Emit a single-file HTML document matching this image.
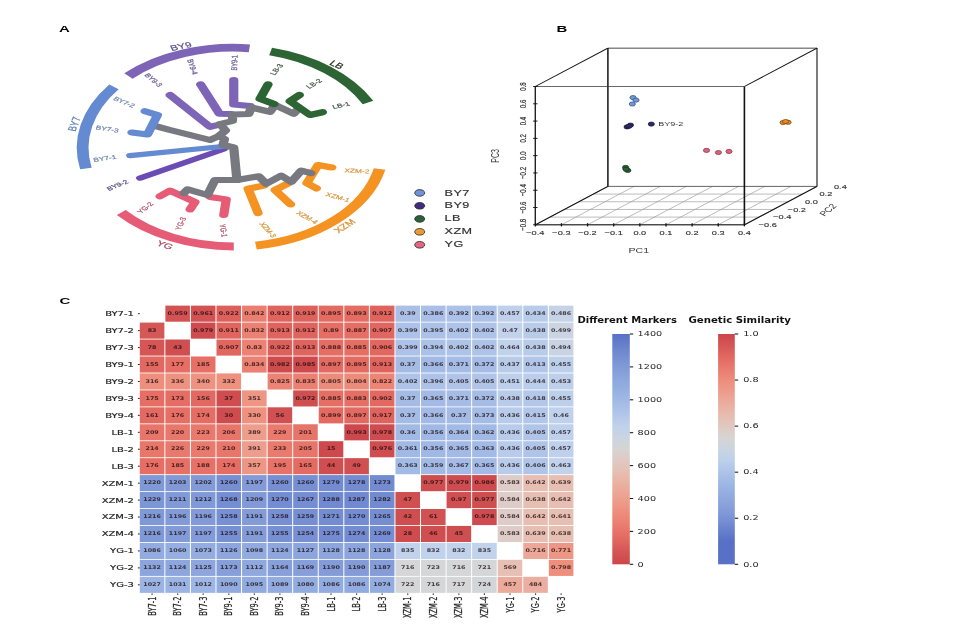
<!DOCTYPE html>
<html lang="en"><head><meta charset="utf-8"><title>Figure: phylogeny, PCA and genetic similarity heatmap</title>
<style>
html,body{margin:0;padding:0;background:#fff;}
body{width:960px;height:640px;overflow:hidden;font-family:"Liberation Sans",Arial,sans-serif;}
svg{display:block;filter:blur(0.45px);}
</style></head><body>
<svg width="960" height="640" viewBox="0 0 960 640">
<rect width="960" height="640" fill="#fff"/>
<g transform="scale(1 0.664)">
<path d="M114 130.87 A150 150 0 0 0 85.9 253.77" fill="none" stroke="#648ad2" stroke-width="11.8"/>
<path d="M128.4 114.46 A150 150 0 0 1 249.4 72.74" fill="none" stroke="#7d64b6" stroke-width="11.8"/>
<path d="M270.6 77.56 A150 150 0 0 1 368 154.37" fill="none" stroke="#2c6434" stroke-width="11.8"/>
<path d="M379.6 254.52 A150 150 0 0 1 255.9 369.88" fill="none" stroke="#f49222" stroke-width="11.8"/>
<path d="M233.75 371.23 A150 150 0 0 1 121.25 320.03" fill="none" stroke="#e65c76" stroke-width="11.8"/>
<path d="M233.75 120.48 L233.75 157.38 L250 159.64" fill="none" stroke="#7d64b6" stroke-width="9.2" stroke-linecap="round" stroke-linejoin="round"/>
<path d="M200.6 127.11 L219.4 171.31 L231 171.69" fill="none" stroke="#7d64b6" stroke-width="9.2" stroke-linecap="round" stroke-linejoin="round"/>
<path d="M170 143.07 L210 191.11 L220 187.5" fill="none" stroke="#7d64b6" stroke-width="9.2" stroke-linecap="round" stroke-linejoin="round"/>
<path d="M140 268.22 L224 224.4" fill="none" stroke="#6a4cb4" stroke-width="7.82" stroke-linecap="round" stroke-linejoin="round"/>
<path d="M130 234.34 L222.5 220.63" fill="none" stroke="#648ad2" stroke-width="7.82" stroke-linecap="round" stroke-linejoin="round"/>
<path d="M264 279.37 L248.1 284.26 L258.1 320.93" fill="none" stroke="#f49222" stroke-width="9.2" stroke-linecap="round" stroke-linejoin="round"/>
<path d="M287.5 276.73 L275 286.14 L290.6 307.83" fill="none" stroke="#f49222" stroke-width="9.2" stroke-linecap="round" stroke-linejoin="round"/>
<path d="M331.9 252.26 L318.1 248.49 L306.9 275.75 L316.5 283.73" fill="none" stroke="#f49222" stroke-width="9.2" stroke-linecap="round" stroke-linejoin="round"/>
<path d="M210 296.54 L226.25 300.3 L223.75 323.8" fill="none" stroke="#e65c76" stroke-width="9.2" stroke-linecap="round" stroke-linejoin="round"/>
<path d="M160 295.56 L170 287.05 L195 304.07 L190 315.36" fill="none" stroke="#e65c76" stroke-width="9.2" stroke-linecap="round" stroke-linejoin="round"/>
<path d="M236.9 271.08 L233.75 222.14 L223 218.37 L224.5 209.34 L219 204.82 L225.5 196.54 L220 186.75 L232.5 182.23 L232.5 172.44 L248.75 171.69 L251.25 161.9 L270 168.52 L275 158.13 L293.75 171.31 L297 165.66" fill="none" stroke="#787880" stroke-width="9.2" stroke-linecap="round" stroke-linejoin="round"/>
<path d="M219 204.82 L210 210.84 L170 195.78 L153.75 189.16" fill="none" stroke="#787880" stroke-width="9.2" stroke-linecap="butt" stroke-linejoin="round"/>
<path d="M236.9 271.08 L258.75 265.44 L266.25 276.73 L281.25 264.46 L291.25 273.95 L301.25 256.93 L311 260.69" fill="none" stroke="#787880" stroke-width="9.2" stroke-linecap="round" stroke-linejoin="round"/>
<path d="M236.9 271.08 L215 271.08 L207.5 293.67 L187.5 285.24 L184 290.66" fill="none" stroke="#787880" stroke-width="9.2" stroke-linecap="round" stroke-linejoin="round"/>
<path d="M145 167.55 L157.5 173.19 L147.5 202.41 L131.9 199.55" fill="none" stroke="#648ad2" stroke-width="9.2" stroke-linecap="round" stroke-linejoin="round"/>
<path d="M268.1 127.11 L260 148.72 L274 156.63" fill="none" stroke="#2c6434" stroke-width="9.2" stroke-linecap="round" stroke-linejoin="round"/>
<path d="M299.4 143.07 L290 152.48 L310 173.19 L322.5 169.05" fill="none" stroke="#2c6434" stroke-width="9.2" stroke-linecap="round" stroke-linejoin="round"/>
<text transform="translate(124 154.37) rotate(31.32)" font-size="8.4" fill="#7186ad" font-weight="normal" text-anchor="middle" dominant-baseline="central" font-family="Liberation Sans, Arial, sans-serif" stroke="#7186ad" stroke-width="0.3">BY7-2</text>
<text transform="translate(107.1 194.88) rotate(11.95)" font-size="8.4" fill="#7186ad" font-weight="normal" text-anchor="middle" dominant-baseline="central" font-family="Liberation Sans, Arial, sans-serif" stroke="#7186ad" stroke-width="0.3">BY7-3</text>
<text transform="translate(105 239.08) rotate(-11.95)" font-size="8.4" fill="#7186ad" font-weight="normal" text-anchor="middle" dominant-baseline="central" font-family="Liberation Sans, Arial, sans-serif" stroke="#7186ad" stroke-width="0.3">BY7-1</text>
<text transform="translate(117.75 279.52) rotate(-31.32)" font-size="8.4" fill="#5c4f86" font-weight="normal" text-anchor="middle" dominant-baseline="central" font-family="Liberation Sans, Arial, sans-serif" stroke="#5c4f86" stroke-width="0.3">BY9-2</text>
<text transform="translate(153.1 120.86) rotate(51.64)" font-size="8.4" fill="#6f5f97" font-weight="normal" text-anchor="middle" dominant-baseline="central" font-family="Liberation Sans, Arial, sans-serif" stroke="#6f5f97" stroke-width="0.3">BY9-3</text>
<text transform="translate(191.9 100.75) rotate(76.41)" font-size="8.4" fill="#6f5f97" font-weight="normal" text-anchor="middle" dominant-baseline="central" font-family="Liberation Sans, Arial, sans-serif" stroke="#6f5f97" stroke-width="0.3">BY9-4</text>
<text transform="translate(235 94.5) rotate(-88.67)" font-size="8.4" fill="#6f5f97" font-weight="normal" text-anchor="middle" dominant-baseline="central" font-family="Liberation Sans, Arial, sans-serif" stroke="#6f5f97" stroke-width="0.3">BY9-1</text>
<text transform="translate(277.1 104.82) rotate(-60.88)" font-size="8.4" fill="#47574a" font-weight="normal" text-anchor="middle" dominant-baseline="central" font-family="Liberation Sans, Arial, sans-serif" stroke="#47574a" stroke-width="0.3">LB-3</text>
<text transform="translate(314.4 126.51) rotate(-41.01)" font-size="8.4" fill="#47574a" font-weight="normal" text-anchor="middle" dominant-baseline="central" font-family="Liberation Sans, Arial, sans-serif" stroke="#47574a" stroke-width="0.3">LB-2</text>
<text transform="translate(341.25 159.04) rotate(-17.75)" font-size="8.4" fill="#47574a" font-weight="normal" text-anchor="middle" dominant-baseline="central" font-family="Liberation Sans, Arial, sans-serif" stroke="#47574a" stroke-width="0.3">LB-1</text>
<text transform="translate(356.9 257.91) rotate(4.51)" font-size="8.4" fill="#d99a45" font-weight="normal" text-anchor="middle" dominant-baseline="central" font-family="Liberation Sans, Arial, sans-serif" stroke="#d99a45" stroke-width="0.3">XZM-2</text>
<text transform="translate(337.5 297.44) rotate(21.98)" font-size="8.4" fill="#d99a45" font-weight="normal" text-anchor="middle" dominant-baseline="central" font-family="Liberation Sans, Arial, sans-serif" stroke="#d99a45" stroke-width="0.3">XZM-1</text>
<text transform="translate(306.9 327.94) rotate(41.01)" font-size="8.4" fill="#d99a45" font-weight="normal" text-anchor="middle" dominant-baseline="central" font-family="Liberation Sans, Arial, sans-serif" stroke="#d99a45" stroke-width="0.3">XZM-4</text>
<text transform="translate(267.5 346.39) rotate(59.13)" font-size="8.4" fill="#d99a45" font-weight="normal" text-anchor="middle" dominant-baseline="central" font-family="Liberation Sans, Arial, sans-serif" stroke="#d99a45" stroke-width="0.3">XZM-3</text>
<text transform="translate(145.6 313.4) rotate(-49.64)" font-size="8.4" fill="#b4566b" font-weight="normal" text-anchor="middle" dominant-baseline="central" font-family="Liberation Sans, Arial, sans-serif" stroke="#b4566b" stroke-width="0.3">YG-2</text>
<text transform="translate(181.25 336.97) rotate(-72.8)" font-size="8.4" fill="#b4566b" font-weight="normal" text-anchor="middle" dominant-baseline="central" font-family="Liberation Sans, Arial, sans-serif" stroke="#b4566b" stroke-width="0.3">YG-3</text>
<text transform="translate(223.1 347.29) rotate(83.32)" font-size="8.4" fill="#b4566b" font-weight="normal" text-anchor="middle" dominant-baseline="central" font-family="Liberation Sans, Arial, sans-serif" stroke="#b4566b" stroke-width="0.3">YG-1</text>
<text transform="translate(74 186.75) rotate(-74.98)" font-size="11.5" fill="#5e7fb5" font-weight="normal" text-anchor="middle" dominant-baseline="central" font-family="Liberation Sans, Arial, sans-serif" stroke="#5e7fb5" stroke-width="0.3">BY7</text>
<text transform="translate(180.9 69.73) rotate(-17.75)" font-size="11.5" fill="#5d4f8c" font-weight="normal" text-anchor="middle" dominant-baseline="central" font-family="Liberation Sans, Arial, sans-serif" stroke="#5d4f8c" stroke-width="0.3">BY9</text>
<text transform="translate(336.9 97.29) rotate(35.08)" font-size="11.5" fill="#22301f" font-weight="normal" text-anchor="middle" dominant-baseline="central" font-family="Liberation Sans, Arial, sans-serif" stroke="#22301f" stroke-width="0.3">LB</text>
<text transform="translate(344.5 340.36) rotate(-43.26)" font-size="11.5" fill="#d9923a" font-weight="normal" text-anchor="middle" dominant-baseline="central" font-family="Liberation Sans, Arial, sans-serif" stroke="#d9923a" stroke-width="0.3">XZM</text>
<text transform="translate(165 368.98) rotate(26.07)" font-size="11.5" fill="#a64d62" font-weight="normal" text-anchor="middle" dominant-baseline="central" font-family="Liberation Sans, Arial, sans-serif" stroke="#a64d62" stroke-width="0.3">YG</text>
<circle cx="419.7" cy="290.51" r="5.0" fill="#6f93d6" stroke="#2b2b33" stroke-width="1.0"/>
<text transform="translate(444.6 294.43)" font-size="12.6" fill="#333" font-weight="normal" text-anchor="start" dominant-baseline="alphabetic" font-family="Liberation Sans, Arial, sans-serif" stroke="#333" stroke-width="0.25" letter-spacing="0.45">BY7</text>
<circle cx="419.7" cy="309.94" r="5.0" fill="#3f2c7c" stroke="#2b2b33" stroke-width="1.0"/>
<text transform="translate(444.6 313.86)" font-size="12.6" fill="#333" font-weight="normal" text-anchor="start" dominant-baseline="alphabetic" font-family="Liberation Sans, Arial, sans-serif" stroke="#333" stroke-width="0.25" letter-spacing="0.45">BY9</text>
<circle cx="419.7" cy="329.67" r="5.0" fill="#2a6137" stroke="#2b2b33" stroke-width="1.0"/>
<text transform="translate(444.6 332.83)" font-size="12.6" fill="#333" font-weight="normal" text-anchor="start" dominant-baseline="alphabetic" font-family="Liberation Sans, Arial, sans-serif" stroke="#333" stroke-width="0.25" letter-spacing="0.45">LB</text>
<circle cx="419.7" cy="349.1" r="5.0" fill="#ec9a33" stroke="#2b2b33" stroke-width="1.0"/>
<text transform="translate(444.6 352.56)" font-size="12.6" fill="#333" font-weight="normal" text-anchor="start" dominant-baseline="alphabetic" font-family="Liberation Sans, Arial, sans-serif" stroke="#333" stroke-width="0.25" letter-spacing="0.45">XZM</text>
<circle cx="419.7" cy="368.67" r="5.0" fill="#e4667f" stroke="#2b2b33" stroke-width="1.0"/>
<text transform="translate(444.6 371.69)" font-size="12.6" fill="#333" font-weight="normal" text-anchor="start" dominant-baseline="alphabetic" font-family="Liberation Sans, Arial, sans-serif" stroke="#333" stroke-width="0.25" letter-spacing="0.45">YG</text>
<text transform="translate(59 48.04)" font-size="15" fill="#000" font-weight="bold" text-anchor="start" dominant-baseline="alphabetic" font-family="Liberation Sans, Arial, sans-serif">A</text>
<text transform="translate(556.6 48.04)" font-size="15" fill="#000" font-weight="bold" text-anchor="start" dominant-baseline="alphabetic" font-family="Liberation Sans, Arial, sans-serif">B</text>
<text transform="translate(59.4 457.38)" font-size="15" fill="#000" font-weight="bold" text-anchor="start" dominant-baseline="alphabetic" font-family="Liberation Sans, Arial, sans-serif">C</text>
<line x1="535.3" y1="338.55" x2="607.9" y2="280.72" stroke="#9a9a9a" stroke-width="0.8" stroke-linecap="butt"/>
<line x1="561.44" y1="338.55" x2="634.04" y2="280.72" stroke="#9a9a9a" stroke-width="0.8" stroke-linecap="butt"/>
<line x1="587.57" y1="338.55" x2="660.17" y2="280.72" stroke="#9a9a9a" stroke-width="0.8" stroke-linecap="butt"/>
<line x1="613.71" y1="338.55" x2="686.31" y2="280.72" stroke="#9a9a9a" stroke-width="0.8" stroke-linecap="butt"/>
<line x1="639.85" y1="338.55" x2="712.45" y2="280.72" stroke="#9a9a9a" stroke-width="0.8" stroke-linecap="butt"/>
<line x1="665.99" y1="338.55" x2="738.59" y2="280.72" stroke="#9a9a9a" stroke-width="0.8" stroke-linecap="butt"/>
<line x1="692.12" y1="338.55" x2="764.73" y2="280.72" stroke="#9a9a9a" stroke-width="0.8" stroke-linecap="butt"/>
<line x1="718.26" y1="338.55" x2="790.86" y2="280.72" stroke="#9a9a9a" stroke-width="0.8" stroke-linecap="butt"/>
<line x1="744.4" y1="338.55" x2="817" y2="280.72" stroke="#9a9a9a" stroke-width="0.8" stroke-linecap="butt"/>
<line x1="535.3" y1="338.55" x2="744.4" y2="338.55" stroke="#444" stroke-width="1" stroke-linecap="butt"/>
<line x1="549.82" y1="326.99" x2="758.92" y2="326.99" stroke="#9a9a9a" stroke-width="0.8" stroke-linecap="butt"/>
<line x1="564.34" y1="315.42" x2="773.44" y2="315.42" stroke="#9a9a9a" stroke-width="0.8" stroke-linecap="butt"/>
<line x1="578.86" y1="303.86" x2="787.96" y2="303.86" stroke="#9a9a9a" stroke-width="0.8" stroke-linecap="butt"/>
<line x1="593.38" y1="292.29" x2="802.48" y2="292.29" stroke="#9a9a9a" stroke-width="0.8" stroke-linecap="butt"/>
<line x1="607.9" y1="280.72" x2="817" y2="280.72" stroke="#444" stroke-width="1" stroke-linecap="butt"/>
<line x1="607.9" y1="72.44" x2="817" y2="72.44" stroke="#111" stroke-width="1.3" stroke-linecap="butt"/>
<line x1="607.9" y1="72.44" x2="607.9" y2="280.72" stroke="#111" stroke-width="1.5" stroke-linecap="butt"/>
<line x1="817" y1="72.44" x2="817" y2="280.72" stroke="#111" stroke-width="1.1" stroke-linecap="butt"/>
<line x1="535.3" y1="130.27" x2="607.9" y2="72.44" stroke="#111" stroke-width="1.3" stroke-linecap="butt"/>
<line x1="744.4" y1="130.27" x2="817" y2="72.44" stroke="#111" stroke-width="1.3" stroke-linecap="butt"/>
<line x1="535.3" y1="338.55" x2="607.9" y2="280.72" stroke="#111" stroke-width="1.4" stroke-linecap="butt"/>
<line x1="744.4" y1="338.55" x2="817" y2="280.72" stroke="#111" stroke-width="1.5" stroke-linecap="butt"/>
<circle cx="633" cy="146.99" r="3.1" fill="#7099d8" stroke="#35507f" stroke-width="0.9"/>
<circle cx="636" cy="150.75" r="3.1" fill="#7099d8" stroke="#35507f" stroke-width="0.9"/>
<circle cx="632.3" cy="156.63" r="3.1" fill="#7099d8" stroke="#35507f" stroke-width="0.9"/>
<circle cx="627.1" cy="191.11" r="3.1" fill="#2e2a5e" stroke="#1c1a40" stroke-width="0.9"/>
<circle cx="630.5" cy="188.4" r="3.1" fill="#2e2a5e" stroke="#1c1a40" stroke-width="0.9"/>
<circle cx="629" cy="190.06" r="3.1" fill="#2e2a5e" stroke="#1c1a40" stroke-width="0.9"/>
<circle cx="651.3" cy="186.9" r="3.1" fill="#2e2a5e" stroke="#1c1a40" stroke-width="0.9"/>
<circle cx="625.6" cy="252.11" r="3.1" fill="#2a5f36" stroke="#17381f" stroke-width="0.9"/>
<circle cx="627.8" cy="256.63" r="3.1" fill="#2a5f36" stroke="#17381f" stroke-width="0.9"/>
<circle cx="626" cy="254.82" r="3.1" fill="#2a5f36" stroke="#17381f" stroke-width="0.9"/>
<circle cx="706.5" cy="226.51" r="3.1" fill="#d8657f" stroke="#8b3448" stroke-width="0.9"/>
<circle cx="718.4" cy="229.67" r="3.1" fill="#d8657f" stroke="#8b3448" stroke-width="0.9"/>
<circle cx="729" cy="228.01" r="3.1" fill="#d8657f" stroke="#8b3448" stroke-width="0.9"/>
<circle cx="783.1" cy="184.49" r="3.1" fill="#e58c2b" stroke="#7a430e" stroke-width="0.9"/>
<circle cx="788.1" cy="184.19" r="3.1" fill="#e58c2b" stroke="#7a430e" stroke-width="0.9"/>
<circle cx="785.6" cy="182.98" r="3.1" fill="#e58c2b" stroke="#7a430e" stroke-width="0.9"/>
<text transform="translate(658.3 189.91)" font-size="9" fill="#333" font-weight="normal" text-anchor="start" dominant-baseline="alphabetic" font-family="Liberation Sans, Arial, sans-serif">BY9-2</text>
<line x1="535.3" y1="130.27" x2="744.4" y2="130.27" stroke="#333" stroke-width="0.9" stroke-linecap="butt"/>
<line x1="535.3" y1="130.27" x2="535.3" y2="338.55" stroke="#222" stroke-width="1.4" stroke-linecap="butt"/>
<line x1="744.4" y1="130.27" x2="744.4" y2="338.55" stroke="#111" stroke-width="1.6" stroke-linecap="butt"/>
<line x1="535.3" y1="338.55" x2="744.4" y2="338.55" stroke="#333" stroke-width="1.4" stroke-linecap="butt"/>
<line x1="535.3" y1="336.14" x2="535.3" y2="340.96" stroke="#111" stroke-width="1.3" stroke-linecap="butt"/>
<text transform="translate(535.3 353.46)" font-size="9.2" fill="#333" font-weight="normal" text-anchor="middle" dominant-baseline="alphabetic" font-family="Liberation Sans, Arial, sans-serif" stroke="#333" stroke-width="0.2">−0.4</text>
<line x1="561.44" y1="336.14" x2="561.44" y2="340.96" stroke="#111" stroke-width="1.3" stroke-linecap="butt"/>
<text transform="translate(561.44 353.46)" font-size="9.2" fill="#333" font-weight="normal" text-anchor="middle" dominant-baseline="alphabetic" font-family="Liberation Sans, Arial, sans-serif" stroke="#333" stroke-width="0.2">−0.3</text>
<line x1="587.57" y1="336.14" x2="587.57" y2="340.96" stroke="#111" stroke-width="1.3" stroke-linecap="butt"/>
<text transform="translate(587.57 353.46)" font-size="9.2" fill="#333" font-weight="normal" text-anchor="middle" dominant-baseline="alphabetic" font-family="Liberation Sans, Arial, sans-serif" stroke="#333" stroke-width="0.2">−0.2</text>
<line x1="613.71" y1="336.14" x2="613.71" y2="340.96" stroke="#111" stroke-width="1.3" stroke-linecap="butt"/>
<text transform="translate(613.71 353.46)" font-size="9.2" fill="#333" font-weight="normal" text-anchor="middle" dominant-baseline="alphabetic" font-family="Liberation Sans, Arial, sans-serif" stroke="#333" stroke-width="0.2">−0.1</text>
<line x1="639.85" y1="336.14" x2="639.85" y2="340.96" stroke="#111" stroke-width="1.3" stroke-linecap="butt"/>
<text transform="translate(639.85 353.46)" font-size="9.2" fill="#333" font-weight="normal" text-anchor="middle" dominant-baseline="alphabetic" font-family="Liberation Sans, Arial, sans-serif" stroke="#333" stroke-width="0.2">0.0</text>
<line x1="665.99" y1="336.14" x2="665.99" y2="340.96" stroke="#111" stroke-width="1.3" stroke-linecap="butt"/>
<text transform="translate(665.99 353.46)" font-size="9.2" fill="#333" font-weight="normal" text-anchor="middle" dominant-baseline="alphabetic" font-family="Liberation Sans, Arial, sans-serif" stroke="#333" stroke-width="0.2">0.1</text>
<line x1="692.12" y1="336.14" x2="692.12" y2="340.96" stroke="#111" stroke-width="1.3" stroke-linecap="butt"/>
<text transform="translate(692.12 353.46)" font-size="9.2" fill="#333" font-weight="normal" text-anchor="middle" dominant-baseline="alphabetic" font-family="Liberation Sans, Arial, sans-serif" stroke="#333" stroke-width="0.2">0.2</text>
<line x1="718.26" y1="336.14" x2="718.26" y2="340.96" stroke="#111" stroke-width="1.3" stroke-linecap="butt"/>
<text transform="translate(718.26 353.46)" font-size="9.2" fill="#333" font-weight="normal" text-anchor="middle" dominant-baseline="alphabetic" font-family="Liberation Sans, Arial, sans-serif" stroke="#333" stroke-width="0.2">0.3</text>
<line x1="744.4" y1="336.14" x2="744.4" y2="340.96" stroke="#111" stroke-width="1.3" stroke-linecap="butt"/>
<text transform="translate(744.4 353.46)" font-size="9.2" fill="#333" font-weight="normal" text-anchor="middle" dominant-baseline="alphabetic" font-family="Liberation Sans, Arial, sans-serif" stroke="#333" stroke-width="0.2">0.4</text>
<line x1="533.1" y1="338.55" x2="537.5" y2="338.55" stroke="#111" stroke-width="1.4" stroke-linecap="butt"/>
<text transform="translate(522.8 338.55) rotate(-90)" font-size="9.2" fill="#333" font-weight="normal" text-anchor="middle" dominant-baseline="central" font-family="Liberation Sans, Arial, sans-serif" stroke="#333" stroke-width="0.2">−0.8</text>
<line x1="533.1" y1="312.52" x2="537.5" y2="312.52" stroke="#111" stroke-width="1.4" stroke-linecap="butt"/>
<text transform="translate(522.8 312.52) rotate(-90)" font-size="9.2" fill="#333" font-weight="normal" text-anchor="middle" dominant-baseline="central" font-family="Liberation Sans, Arial, sans-serif" stroke="#333" stroke-width="0.2">−0.6</text>
<line x1="533.1" y1="286.48" x2="537.5" y2="286.48" stroke="#111" stroke-width="1.4" stroke-linecap="butt"/>
<text transform="translate(522.8 286.48) rotate(-90)" font-size="9.2" fill="#333" font-weight="normal" text-anchor="middle" dominant-baseline="central" font-family="Liberation Sans, Arial, sans-serif" stroke="#333" stroke-width="0.2">−0.4</text>
<line x1="533.1" y1="260.45" x2="537.5" y2="260.45" stroke="#111" stroke-width="1.4" stroke-linecap="butt"/>
<text transform="translate(522.8 260.45) rotate(-90)" font-size="9.2" fill="#333" font-weight="normal" text-anchor="middle" dominant-baseline="central" font-family="Liberation Sans, Arial, sans-serif" stroke="#333" stroke-width="0.2">−0.2</text>
<line x1="533.1" y1="234.41" x2="537.5" y2="234.41" stroke="#111" stroke-width="1.4" stroke-linecap="butt"/>
<text transform="translate(522.8 234.41) rotate(-90)" font-size="9.2" fill="#333" font-weight="normal" text-anchor="middle" dominant-baseline="central" font-family="Liberation Sans, Arial, sans-serif" stroke="#333" stroke-width="0.2">0.0</text>
<line x1="533.1" y1="208.38" x2="537.5" y2="208.38" stroke="#111" stroke-width="1.4" stroke-linecap="butt"/>
<text transform="translate(522.8 208.38) rotate(-90)" font-size="9.2" fill="#333" font-weight="normal" text-anchor="middle" dominant-baseline="central" font-family="Liberation Sans, Arial, sans-serif" stroke="#333" stroke-width="0.2">0.2</text>
<line x1="533.1" y1="182.34" x2="537.5" y2="182.34" stroke="#111" stroke-width="1.4" stroke-linecap="butt"/>
<text transform="translate(522.8 182.34) rotate(-90)" font-size="9.2" fill="#333" font-weight="normal" text-anchor="middle" dominant-baseline="central" font-family="Liberation Sans, Arial, sans-serif" stroke="#333" stroke-width="0.2">0.4</text>
<line x1="533.1" y1="156.31" x2="537.5" y2="156.31" stroke="#111" stroke-width="1.4" stroke-linecap="butt"/>
<text transform="translate(522.8 156.31) rotate(-90)" font-size="9.2" fill="#333" font-weight="normal" text-anchor="middle" dominant-baseline="central" font-family="Liberation Sans, Arial, sans-serif" stroke="#333" stroke-width="0.2">0.6</text>
<line x1="533.1" y1="130.27" x2="537.5" y2="130.27" stroke="#111" stroke-width="1.4" stroke-linecap="butt"/>
<text transform="translate(522.8 130.27) rotate(-90)" font-size="9.2" fill="#333" font-weight="normal" text-anchor="middle" dominant-baseline="central" font-family="Liberation Sans, Arial, sans-serif" stroke="#333" stroke-width="0.2">0.8</text>
<text transform="translate(767.8 338.86)" font-size="9.2" fill="#333" font-weight="normal" text-anchor="middle" dominant-baseline="central" font-family="Liberation Sans, Arial, sans-serif" stroke="#333" stroke-width="0.2">−0.6</text>
<text transform="translate(782.32 327.29)" font-size="9.2" fill="#333" font-weight="normal" text-anchor="middle" dominant-baseline="central" font-family="Liberation Sans, Arial, sans-serif" stroke="#333" stroke-width="0.2">−0.4</text>
<text transform="translate(796.84 315.72)" font-size="9.2" fill="#333" font-weight="normal" text-anchor="middle" dominant-baseline="central" font-family="Liberation Sans, Arial, sans-serif" stroke="#333" stroke-width="0.2">−0.2</text>
<text transform="translate(811.36 304.16)" font-size="9.2" fill="#333" font-weight="normal" text-anchor="middle" dominant-baseline="central" font-family="Liberation Sans, Arial, sans-serif" stroke="#333" stroke-width="0.2">0.0</text>
<text transform="translate(825.88 292.59)" font-size="9.2" fill="#333" font-weight="normal" text-anchor="middle" dominant-baseline="central" font-family="Liberation Sans, Arial, sans-serif" stroke="#333" stroke-width="0.2">0.2</text>
<text transform="translate(840.4 281.02)" font-size="9.2" fill="#333" font-weight="normal" text-anchor="middle" dominant-baseline="central" font-family="Liberation Sans, Arial, sans-serif" stroke="#333" stroke-width="0.2">0.4</text>
<text transform="translate(638.8 381.02)" font-size="10.6" fill="#333" font-weight="normal" text-anchor="middle" dominant-baseline="alphabetic" font-family="Liberation Sans, Arial, sans-serif">PC1</text>
<text transform="translate(828 316.27) rotate(-51.64)" font-size="10.6" fill="#333" font-weight="normal" text-anchor="middle" dominant-baseline="central" font-family="Liberation Sans, Arial, sans-serif">PC2</text>
<text transform="translate(495 234.79) rotate(-90)" font-size="10.6" fill="#333" font-weight="normal" text-anchor="middle" dominant-baseline="central" font-family="Liberation Sans, Arial, sans-serif">PC3</text>
<rect x="165.36" y="460.28" width="24.56" height="24.24" fill="#d35353"/>
<text transform="translate(177.65 471.57) scale(1 1.22)" font-size="6.35" fill="#1a0a0c" fill-opacity="0.78" font-weight="bold" text-anchor="middle" dominant-baseline="central" font-family="DejaVu Sans, Liberation Sans, sans-serif">0.959</text>
<rect x="190.93" y="460.28" width="24.56" height="24.24" fill="#d25253"/>
<text transform="translate(203.21 471.57) scale(1 1.22)" font-size="6.35" fill="#1a0a0c" fill-opacity="0.78" font-weight="bold" text-anchor="middle" dominant-baseline="central" font-family="DejaVu Sans, Liberation Sans, sans-serif">0.961</text>
<rect x="216.49" y="460.28" width="24.56" height="24.24" fill="#dc615c"/>
<text transform="translate(228.78 471.57) scale(1 1.22)" font-size="6.35" fill="#1a0a0c" fill-opacity="0.78" font-weight="bold" text-anchor="middle" dominant-baseline="central" font-family="DejaVu Sans, Liberation Sans, sans-serif">0.922</text>
<rect x="242.06" y="460.28" width="24.56" height="24.24" fill="#ea7e70"/>
<text transform="translate(254.34 471.57) scale(1 1.22)" font-size="6.35" fill="#1a0a0c" fill-opacity="0.78" font-weight="bold" text-anchor="middle" dominant-baseline="central" font-family="DejaVu Sans, Liberation Sans, sans-serif">0.842</text>
<rect x="267.62" y="460.28" width="24.56" height="24.24" fill="#df645e"/>
<text transform="translate(279.91 471.57) scale(1 1.22)" font-size="6.35" fill="#1a0a0c" fill-opacity="0.78" font-weight="bold" text-anchor="middle" dominant-baseline="central" font-family="DejaVu Sans, Liberation Sans, sans-serif">0.912</text>
<rect x="293.19" y="460.28" width="24.56" height="24.24" fill="#dd625c"/>
<text transform="translate(305.47 471.57) scale(1 1.22)" font-size="6.35" fill="#1a0a0c" fill-opacity="0.78" font-weight="bold" text-anchor="middle" dominant-baseline="central" font-family="DejaVu Sans, Liberation Sans, sans-serif">0.919</text>
<rect x="318.75" y="460.28" width="24.56" height="24.24" fill="#e46b62"/>
<text transform="translate(331.04 471.57) scale(1 1.22)" font-size="6.35" fill="#1a0a0c" fill-opacity="0.78" font-weight="bold" text-anchor="middle" dominant-baseline="central" font-family="DejaVu Sans, Liberation Sans, sans-serif">0.895</text>
<rect x="344.32" y="460.28" width="24.56" height="24.24" fill="#e46c63"/>
<text transform="translate(356.6 471.57) scale(1 1.22)" font-size="6.35" fill="#1a0a0c" fill-opacity="0.78" font-weight="bold" text-anchor="middle" dominant-baseline="central" font-family="DejaVu Sans, Liberation Sans, sans-serif">0.893</text>
<rect x="369.88" y="460.28" width="24.56" height="24.24" fill="#df645e"/>
<text transform="translate(382.16 471.57) scale(1 1.22)" font-size="6.35" fill="#1a0a0c" fill-opacity="0.78" font-weight="bold" text-anchor="middle" dominant-baseline="central" font-family="DejaVu Sans, Liberation Sans, sans-serif">0.912</text>
<rect x="395.45" y="460.28" width="24.56" height="24.24" fill="#aac0e7"/>
<text transform="translate(407.73 471.57) scale(1 1.22)" font-size="6.35" fill="#1a0a0c" fill-opacity="0.78" font-weight="bold" text-anchor="middle" dominant-baseline="central" font-family="DejaVu Sans, Liberation Sans, sans-serif">0.39</text>
<rect x="421.01" y="460.28" width="24.56" height="24.24" fill="#a9bfe7"/>
<text transform="translate(433.29 471.57) scale(1 1.22)" font-size="6.35" fill="#1a0a0c" fill-opacity="0.78" font-weight="bold" text-anchor="middle" dominant-baseline="central" font-family="DejaVu Sans, Liberation Sans, sans-serif">0.386</text>
<rect x="446.58" y="460.28" width="24.56" height="24.24" fill="#abc1e7"/>
<text transform="translate(458.86 471.57) scale(1 1.22)" font-size="6.35" fill="#1a0a0c" fill-opacity="0.78" font-weight="bold" text-anchor="middle" dominant-baseline="central" font-family="DejaVu Sans, Liberation Sans, sans-serif">0.392</text>
<rect x="472.14" y="460.28" width="24.56" height="24.24" fill="#abc1e7"/>
<text transform="translate(484.42 471.57) scale(1 1.22)" font-size="6.35" fill="#1a0a0c" fill-opacity="0.78" font-weight="bold" text-anchor="middle" dominant-baseline="central" font-family="DejaVu Sans, Liberation Sans, sans-serif">0.392</text>
<rect x="497.71" y="460.28" width="24.56" height="24.24" fill="#bed0ec"/>
<text transform="translate(509.99 471.57) scale(1 1.22)" font-size="6.35" fill="#1a0a0c" fill-opacity="0.78" font-weight="bold" text-anchor="middle" dominant-baseline="central" font-family="DejaVu Sans, Liberation Sans, sans-serif">0.457</text>
<rect x="523.27" y="460.28" width="24.56" height="24.24" fill="#b7cbea"/>
<text transform="translate(535.55 471.57) scale(1 1.22)" font-size="6.35" fill="#1a0a0c" fill-opacity="0.78" font-weight="bold" text-anchor="middle" dominant-baseline="central" font-family="DejaVu Sans, Liberation Sans, sans-serif">0.434</text>
<rect x="548.84" y="460.28" width="24.56" height="24.24" fill="#c6d3e6"/>
<text transform="translate(561.12 471.57) scale(1 1.22)" font-size="6.35" fill="#1a0a0c" fill-opacity="0.78" font-weight="bold" text-anchor="middle" dominant-baseline="central" font-family="DejaVu Sans, Liberation Sans, sans-serif">0.486</text>
<rect x="139.8" y="485.8" width="24.56" height="24.24" fill="#d65856"/>
<text transform="translate(152.08 497.09) scale(1 1.22)" font-size="6.35" fill="#1a0a0c" fill-opacity="0.78" font-weight="bold" text-anchor="middle" dominant-baseline="central" font-family="DejaVu Sans, Liberation Sans, sans-serif">83</text>
<rect x="190.93" y="485.8" width="24.56" height="24.24" fill="#ce4c4f"/>
<text transform="translate(203.21 497.09) scale(1 1.22)" font-size="6.35" fill="#1a0a0c" fill-opacity="0.78" font-weight="bold" text-anchor="middle" dominant-baseline="central" font-family="DejaVu Sans, Liberation Sans, sans-serif">0.979</text>
<rect x="216.49" y="485.8" width="24.56" height="24.24" fill="#df655e"/>
<text transform="translate(228.78 497.09) scale(1 1.22)" font-size="6.35" fill="#1a0a0c" fill-opacity="0.78" font-weight="bold" text-anchor="middle" dominant-baseline="central" font-family="DejaVu Sans, Liberation Sans, sans-serif">0.911</text>
<rect x="242.06" y="485.8" width="24.56" height="24.24" fill="#eb8173"/>
<text transform="translate(254.34 497.09) scale(1 1.22)" font-size="6.35" fill="#1a0a0c" fill-opacity="0.78" font-weight="bold" text-anchor="middle" dominant-baseline="central" font-family="DejaVu Sans, Liberation Sans, sans-serif">0.832</text>
<rect x="267.62" y="485.8" width="24.56" height="24.24" fill="#df645e"/>
<text transform="translate(279.91 497.09) scale(1 1.22)" font-size="6.35" fill="#1a0a0c" fill-opacity="0.78" font-weight="bold" text-anchor="middle" dominant-baseline="central" font-family="DejaVu Sans, Liberation Sans, sans-serif">0.913</text>
<rect x="293.19" y="485.8" width="24.56" height="24.24" fill="#df645e"/>
<text transform="translate(305.47 497.09) scale(1 1.22)" font-size="6.35" fill="#1a0a0c" fill-opacity="0.78" font-weight="bold" text-anchor="middle" dominant-baseline="central" font-family="DejaVu Sans, Liberation Sans, sans-serif">0.912</text>
<rect x="318.75" y="485.8" width="24.56" height="24.24" fill="#e56d63"/>
<text transform="translate(331.04 497.09) scale(1 1.22)" font-size="6.35" fill="#1a0a0c" fill-opacity="0.78" font-weight="bold" text-anchor="middle" dominant-baseline="central" font-family="DejaVu Sans, Liberation Sans, sans-serif">0.89</text>
<rect x="344.32" y="485.8" width="24.56" height="24.24" fill="#e66e64"/>
<text transform="translate(356.6 497.09) scale(1 1.22)" font-size="6.35" fill="#1a0a0c" fill-opacity="0.78" font-weight="bold" text-anchor="middle" dominant-baseline="central" font-family="DejaVu Sans, Liberation Sans, sans-serif">0.887</text>
<rect x="369.88" y="485.8" width="24.56" height="24.24" fill="#e1665f"/>
<text transform="translate(382.16 497.09) scale(1 1.22)" font-size="6.35" fill="#1a0a0c" fill-opacity="0.78" font-weight="bold" text-anchor="middle" dominant-baseline="central" font-family="DejaVu Sans, Liberation Sans, sans-serif">0.907</text>
<rect x="395.45" y="485.8" width="24.56" height="24.24" fill="#adc2e8"/>
<text transform="translate(407.73 497.09) scale(1 1.22)" font-size="6.35" fill="#1a0a0c" fill-opacity="0.78" font-weight="bold" text-anchor="middle" dominant-baseline="central" font-family="DejaVu Sans, Liberation Sans, sans-serif">0.399</text>
<rect x="421.01" y="485.8" width="24.56" height="24.24" fill="#acc1e8"/>
<text transform="translate(433.29 497.09) scale(1 1.22)" font-size="6.35" fill="#1a0a0c" fill-opacity="0.78" font-weight="bold" text-anchor="middle" dominant-baseline="central" font-family="DejaVu Sans, Liberation Sans, sans-serif">0.395</text>
<rect x="446.58" y="485.8" width="24.56" height="24.24" fill="#aec3e8"/>
<text transform="translate(458.86 497.09) scale(1 1.22)" font-size="6.35" fill="#1a0a0c" fill-opacity="0.78" font-weight="bold" text-anchor="middle" dominant-baseline="central" font-family="DejaVu Sans, Liberation Sans, sans-serif">0.402</text>
<rect x="472.14" y="485.8" width="24.56" height="24.24" fill="#aec3e8"/>
<text transform="translate(484.42 497.09) scale(1 1.22)" font-size="6.35" fill="#1a0a0c" fill-opacity="0.78" font-weight="bold" text-anchor="middle" dominant-baseline="central" font-family="DejaVu Sans, Liberation Sans, sans-serif">0.402</text>
<rect x="497.71" y="485.8" width="24.56" height="24.24" fill="#c2d2ea"/>
<text transform="translate(509.99 497.09) scale(1 1.22)" font-size="6.35" fill="#1a0a0c" fill-opacity="0.78" font-weight="bold" text-anchor="middle" dominant-baseline="central" font-family="DejaVu Sans, Liberation Sans, sans-serif">0.47</text>
<rect x="523.27" y="485.8" width="24.56" height="24.24" fill="#b8ccea"/>
<text transform="translate(535.55 497.09) scale(1 1.22)" font-size="6.35" fill="#1a0a0c" fill-opacity="0.78" font-weight="bold" text-anchor="middle" dominant-baseline="central" font-family="DejaVu Sans, Liberation Sans, sans-serif">0.438</text>
<rect x="548.84" y="485.8" width="24.56" height="24.24" fill="#cad4e2"/>
<text transform="translate(561.12 497.09) scale(1 1.22)" font-size="6.35" fill="#1a0a0c" fill-opacity="0.78" font-weight="bold" text-anchor="middle" dominant-baseline="central" font-family="DejaVu Sans, Liberation Sans, sans-serif">0.499</text>
<rect x="139.8" y="511.32" width="24.56" height="24.24" fill="#d55655"/>
<text transform="translate(152.08 522.62) scale(1 1.22)" font-size="6.35" fill="#1a0a0c" fill-opacity="0.78" font-weight="bold" text-anchor="middle" dominant-baseline="central" font-family="DejaVu Sans, Liberation Sans, sans-serif">78</text>
<rect x="165.36" y="511.32" width="24.56" height="24.24" fill="#cf4e50"/>
<text transform="translate(177.65 522.62) scale(1 1.22)" font-size="6.35" fill="#1a0a0c" fill-opacity="0.78" font-weight="bold" text-anchor="middle" dominant-baseline="central" font-family="DejaVu Sans, Liberation Sans, sans-serif">43</text>
<rect x="216.49" y="511.32" width="24.56" height="24.24" fill="#e1665f"/>
<text transform="translate(228.78 522.62) scale(1 1.22)" font-size="6.35" fill="#1a0a0c" fill-opacity="0.78" font-weight="bold" text-anchor="middle" dominant-baseline="central" font-family="DejaVu Sans, Liberation Sans, sans-serif">0.907</text>
<rect x="242.06" y="511.32" width="24.56" height="24.24" fill="#eb8273"/>
<text transform="translate(254.34 522.62) scale(1 1.22)" font-size="6.35" fill="#1a0a0c" fill-opacity="0.78" font-weight="bold" text-anchor="middle" dominant-baseline="central" font-family="DejaVu Sans, Liberation Sans, sans-serif">0.83</text>
<rect x="267.62" y="511.32" width="24.56" height="24.24" fill="#dc615c"/>
<text transform="translate(279.91 522.62) scale(1 1.22)" font-size="6.35" fill="#1a0a0c" fill-opacity="0.78" font-weight="bold" text-anchor="middle" dominant-baseline="central" font-family="DejaVu Sans, Liberation Sans, sans-serif">0.922</text>
<rect x="293.19" y="511.32" width="24.56" height="24.24" fill="#df645e"/>
<text transform="translate(305.47 522.62) scale(1 1.22)" font-size="6.35" fill="#1a0a0c" fill-opacity="0.78" font-weight="bold" text-anchor="middle" dominant-baseline="central" font-family="DejaVu Sans, Liberation Sans, sans-serif">0.913</text>
<rect x="318.75" y="511.32" width="24.56" height="24.24" fill="#e66d64"/>
<text transform="translate(331.04 522.62) scale(1 1.22)" font-size="6.35" fill="#1a0a0c" fill-opacity="0.78" font-weight="bold" text-anchor="middle" dominant-baseline="central" font-family="DejaVu Sans, Liberation Sans, sans-serif">0.888</text>
<rect x="344.32" y="511.32" width="24.56" height="24.24" fill="#e66f64"/>
<text transform="translate(356.6 522.62) scale(1 1.22)" font-size="6.35" fill="#1a0a0c" fill-opacity="0.78" font-weight="bold" text-anchor="middle" dominant-baseline="central" font-family="DejaVu Sans, Liberation Sans, sans-serif">0.885</text>
<rect x="369.88" y="511.32" width="24.56" height="24.24" fill="#e1675f"/>
<text transform="translate(382.16 522.62) scale(1 1.22)" font-size="6.35" fill="#1a0a0c" fill-opacity="0.78" font-weight="bold" text-anchor="middle" dominant-baseline="central" font-family="DejaVu Sans, Liberation Sans, sans-serif">0.906</text>
<rect x="395.45" y="511.32" width="24.56" height="24.24" fill="#adc2e8"/>
<text transform="translate(407.73 522.62) scale(1 1.22)" font-size="6.35" fill="#1a0a0c" fill-opacity="0.78" font-weight="bold" text-anchor="middle" dominant-baseline="central" font-family="DejaVu Sans, Liberation Sans, sans-serif">0.399</text>
<rect x="421.01" y="511.32" width="24.56" height="24.24" fill="#abc1e8"/>
<text transform="translate(433.29 522.62) scale(1 1.22)" font-size="6.35" fill="#1a0a0c" fill-opacity="0.78" font-weight="bold" text-anchor="middle" dominant-baseline="central" font-family="DejaVu Sans, Liberation Sans, sans-serif">0.394</text>
<rect x="446.58" y="511.32" width="24.56" height="24.24" fill="#aec3e8"/>
<text transform="translate(458.86 522.62) scale(1 1.22)" font-size="6.35" fill="#1a0a0c" fill-opacity="0.78" font-weight="bold" text-anchor="middle" dominant-baseline="central" font-family="DejaVu Sans, Liberation Sans, sans-serif">0.402</text>
<rect x="472.14" y="511.32" width="24.56" height="24.24" fill="#aec3e8"/>
<text transform="translate(484.42 522.62) scale(1 1.22)" font-size="6.35" fill="#1a0a0c" fill-opacity="0.78" font-weight="bold" text-anchor="middle" dominant-baseline="central" font-family="DejaVu Sans, Liberation Sans, sans-serif">0.402</text>
<rect x="497.71" y="511.32" width="24.56" height="24.24" fill="#c0d2ec"/>
<text transform="translate(509.99 522.62) scale(1 1.22)" font-size="6.35" fill="#1a0a0c" fill-opacity="0.78" font-weight="bold" text-anchor="middle" dominant-baseline="central" font-family="DejaVu Sans, Liberation Sans, sans-serif">0.464</text>
<rect x="523.27" y="511.32" width="24.56" height="24.24" fill="#b8ccea"/>
<text transform="translate(535.55 522.62) scale(1 1.22)" font-size="6.35" fill="#1a0a0c" fill-opacity="0.78" font-weight="bold" text-anchor="middle" dominant-baseline="central" font-family="DejaVu Sans, Liberation Sans, sans-serif">0.438</text>
<rect x="548.84" y="511.32" width="24.56" height="24.24" fill="#c8d4e4"/>
<text transform="translate(561.12 522.62) scale(1 1.22)" font-size="6.35" fill="#1a0a0c" fill-opacity="0.78" font-weight="bold" text-anchor="middle" dominant-baseline="central" font-family="DejaVu Sans, Liberation Sans, sans-serif">0.494</text>
<rect x="139.8" y="536.85" width="24.56" height="24.24" fill="#e26961"/>
<text transform="translate(152.08 548.14) scale(1 1.22)" font-size="6.35" fill="#1a0a0c" fill-opacity="0.78" font-weight="bold" text-anchor="middle" dominant-baseline="central" font-family="DejaVu Sans, Liberation Sans, sans-serif">155</text>
<rect x="165.36" y="536.85" width="24.56" height="24.24" fill="#e66e64"/>
<text transform="translate(177.65 548.14) scale(1 1.22)" font-size="6.35" fill="#1a0a0c" fill-opacity="0.78" font-weight="bold" text-anchor="middle" dominant-baseline="central" font-family="DejaVu Sans, Liberation Sans, sans-serif">177</text>
<rect x="190.93" y="536.85" width="24.56" height="24.24" fill="#e67065"/>
<text transform="translate(203.21 548.14) scale(1 1.22)" font-size="6.35" fill="#1a0a0c" fill-opacity="0.78" font-weight="bold" text-anchor="middle" dominant-baseline="central" font-family="DejaVu Sans, Liberation Sans, sans-serif">185</text>
<rect x="242.06" y="536.85" width="24.56" height="24.24" fill="#eb8172"/>
<text transform="translate(254.34 548.14) scale(1 1.22)" font-size="6.35" fill="#1a0a0c" fill-opacity="0.78" font-weight="bold" text-anchor="middle" dominant-baseline="central" font-family="DejaVu Sans, Liberation Sans, sans-serif">0.834</text>
<rect x="267.62" y="536.85" width="24.56" height="24.24" fill="#ce4b4e"/>
<text transform="translate(279.91 548.14) scale(1 1.22)" font-size="6.35" fill="#1a0a0c" fill-opacity="0.78" font-weight="bold" text-anchor="middle" dominant-baseline="central" font-family="DejaVu Sans, Liberation Sans, sans-serif">0.982</text>
<rect x="293.19" y="536.85" width="24.56" height="24.24" fill="#ce4a4d"/>
<text transform="translate(305.47 548.14) scale(1 1.22)" font-size="6.35" fill="#1a0a0c" fill-opacity="0.78" font-weight="bold" text-anchor="middle" dominant-baseline="central" font-family="DejaVu Sans, Liberation Sans, sans-serif">0.985</text>
<rect x="318.75" y="536.85" width="24.56" height="24.24" fill="#e36a62"/>
<text transform="translate(331.04 548.14) scale(1 1.22)" font-size="6.35" fill="#1a0a0c" fill-opacity="0.78" font-weight="bold" text-anchor="middle" dominant-baseline="central" font-family="DejaVu Sans, Liberation Sans, sans-serif">0.897</text>
<rect x="344.32" y="536.85" width="24.56" height="24.24" fill="#e46b62"/>
<text transform="translate(356.6 548.14) scale(1 1.22)" font-size="6.35" fill="#1a0a0c" fill-opacity="0.78" font-weight="bold" text-anchor="middle" dominant-baseline="central" font-family="DejaVu Sans, Liberation Sans, sans-serif">0.895</text>
<rect x="369.88" y="536.85" width="24.56" height="24.24" fill="#df645e"/>
<text transform="translate(382.16 548.14) scale(1 1.22)" font-size="6.35" fill="#1a0a0c" fill-opacity="0.78" font-weight="bold" text-anchor="middle" dominant-baseline="central" font-family="DejaVu Sans, Liberation Sans, sans-serif">0.913</text>
<rect x="395.45" y="536.85" width="24.56" height="24.24" fill="#a4bbe6"/>
<text transform="translate(407.73 548.14) scale(1 1.22)" font-size="6.35" fill="#1a0a0c" fill-opacity="0.78" font-weight="bold" text-anchor="middle" dominant-baseline="central" font-family="DejaVu Sans, Liberation Sans, sans-serif">0.37</text>
<rect x="421.01" y="536.85" width="24.56" height="24.24" fill="#a3bae6"/>
<text transform="translate(433.29 548.14) scale(1 1.22)" font-size="6.35" fill="#1a0a0c" fill-opacity="0.78" font-weight="bold" text-anchor="middle" dominant-baseline="central" font-family="DejaVu Sans, Liberation Sans, sans-serif">0.366</text>
<rect x="446.58" y="536.85" width="24.56" height="24.24" fill="#a4bce6"/>
<text transform="translate(458.86 548.14) scale(1 1.22)" font-size="6.35" fill="#1a0a0c" fill-opacity="0.78" font-weight="bold" text-anchor="middle" dominant-baseline="central" font-family="DejaVu Sans, Liberation Sans, sans-serif">0.371</text>
<rect x="472.14" y="536.85" width="24.56" height="24.24" fill="#a5bce6"/>
<text transform="translate(484.42 548.14) scale(1 1.22)" font-size="6.35" fill="#1a0a0c" fill-opacity="0.78" font-weight="bold" text-anchor="middle" dominant-baseline="central" font-family="DejaVu Sans, Liberation Sans, sans-serif">0.372</text>
<rect x="497.71" y="536.85" width="24.56" height="24.24" fill="#b8ccea"/>
<text transform="translate(509.99 548.14) scale(1 1.22)" font-size="6.35" fill="#1a0a0c" fill-opacity="0.78" font-weight="bold" text-anchor="middle" dominant-baseline="central" font-family="DejaVu Sans, Liberation Sans, sans-serif">0.437</text>
<rect x="523.27" y="536.85" width="24.56" height="24.24" fill="#b1c6e9"/>
<text transform="translate(535.55 548.14) scale(1 1.22)" font-size="6.35" fill="#1a0a0c" fill-opacity="0.78" font-weight="bold" text-anchor="middle" dominant-baseline="central" font-family="DejaVu Sans, Liberation Sans, sans-serif">0.413</text>
<rect x="548.84" y="536.85" width="24.56" height="24.24" fill="#bdd0eb"/>
<text transform="translate(561.12 548.14) scale(1 1.22)" font-size="6.35" fill="#1a0a0c" fill-opacity="0.78" font-weight="bold" text-anchor="middle" dominant-baseline="central" font-family="DejaVu Sans, Liberation Sans, sans-serif">0.455</text>
<rect x="139.8" y="562.37" width="24.56" height="24.24" fill="#ee8e7c"/>
<text transform="translate(152.08 573.66) scale(1 1.22)" font-size="6.35" fill="#1a0a0c" fill-opacity="0.78" font-weight="bold" text-anchor="middle" dominant-baseline="central" font-family="DejaVu Sans, Liberation Sans, sans-serif">316</text>
<rect x="165.36" y="562.37" width="24.56" height="24.24" fill="#ee9280"/>
<text transform="translate(177.65 573.66) scale(1 1.22)" font-size="6.35" fill="#1a0a0c" fill-opacity="0.78" font-weight="bold" text-anchor="middle" dominant-baseline="central" font-family="DejaVu Sans, Liberation Sans, sans-serif">336</text>
<rect x="190.93" y="562.37" width="24.56" height="24.24" fill="#ee9381"/>
<text transform="translate(203.21 573.66) scale(1 1.22)" font-size="6.35" fill="#1a0a0c" fill-opacity="0.78" font-weight="bold" text-anchor="middle" dominant-baseline="central" font-family="DejaVu Sans, Liberation Sans, sans-serif">340</text>
<rect x="216.49" y="562.37" width="24.56" height="24.24" fill="#ee917f"/>
<text transform="translate(228.78 573.66) scale(1 1.22)" font-size="6.35" fill="#1a0a0c" fill-opacity="0.78" font-weight="bold" text-anchor="middle" dominant-baseline="central" font-family="DejaVu Sans, Liberation Sans, sans-serif">332</text>
<rect x="267.62" y="562.37" width="24.56" height="24.24" fill="#eb8474"/>
<text transform="translate(279.91 573.66) scale(1 1.22)" font-size="6.35" fill="#1a0a0c" fill-opacity="0.78" font-weight="bold" text-anchor="middle" dominant-baseline="central" font-family="DejaVu Sans, Liberation Sans, sans-serif">0.825</text>
<rect x="293.19" y="562.37" width="24.56" height="24.24" fill="#eb8072"/>
<text transform="translate(305.47 573.66) scale(1 1.22)" font-size="6.35" fill="#1a0a0c" fill-opacity="0.78" font-weight="bold" text-anchor="middle" dominant-baseline="central" font-family="DejaVu Sans, Liberation Sans, sans-serif">0.835</text>
<rect x="318.75" y="562.37" width="24.56" height="24.24" fill="#ed8b7a"/>
<text transform="translate(331.04 573.66) scale(1 1.22)" font-size="6.35" fill="#1a0a0c" fill-opacity="0.78" font-weight="bold" text-anchor="middle" dominant-baseline="central" font-family="DejaVu Sans, Liberation Sans, sans-serif">0.805</text>
<rect x="344.32" y="562.37" width="24.56" height="24.24" fill="#ed8b7a"/>
<text transform="translate(356.6 573.66) scale(1 1.22)" font-size="6.35" fill="#1a0a0c" fill-opacity="0.78" font-weight="bold" text-anchor="middle" dominant-baseline="central" font-family="DejaVu Sans, Liberation Sans, sans-serif">0.804</text>
<rect x="369.88" y="562.37" width="24.56" height="24.24" fill="#ec8575"/>
<text transform="translate(382.16 573.66) scale(1 1.22)" font-size="6.35" fill="#1a0a0c" fill-opacity="0.78" font-weight="bold" text-anchor="middle" dominant-baseline="central" font-family="DejaVu Sans, Liberation Sans, sans-serif">0.822</text>
<rect x="395.45" y="562.37" width="24.56" height="24.24" fill="#aec3e8"/>
<text transform="translate(407.73 573.66) scale(1 1.22)" font-size="6.35" fill="#1a0a0c" fill-opacity="0.78" font-weight="bold" text-anchor="middle" dominant-baseline="central" font-family="DejaVu Sans, Liberation Sans, sans-serif">0.402</text>
<rect x="421.01" y="562.37" width="24.56" height="24.24" fill="#acc2e8"/>
<text transform="translate(433.29 573.66) scale(1 1.22)" font-size="6.35" fill="#1a0a0c" fill-opacity="0.78" font-weight="bold" text-anchor="middle" dominant-baseline="central" font-family="DejaVu Sans, Liberation Sans, sans-serif">0.396</text>
<rect x="446.58" y="562.37" width="24.56" height="24.24" fill="#afc4e8"/>
<text transform="translate(458.86 573.66) scale(1 1.22)" font-size="6.35" fill="#1a0a0c" fill-opacity="0.78" font-weight="bold" text-anchor="middle" dominant-baseline="central" font-family="DejaVu Sans, Liberation Sans, sans-serif">0.405</text>
<rect x="472.14" y="562.37" width="24.56" height="24.24" fill="#afc4e8"/>
<text transform="translate(484.42 573.66) scale(1 1.22)" font-size="6.35" fill="#1a0a0c" fill-opacity="0.78" font-weight="bold" text-anchor="middle" dominant-baseline="central" font-family="DejaVu Sans, Liberation Sans, sans-serif">0.405</text>
<rect x="497.71" y="562.37" width="24.56" height="24.24" fill="#bccfeb"/>
<text transform="translate(509.99 573.66) scale(1 1.22)" font-size="6.35" fill="#1a0a0c" fill-opacity="0.78" font-weight="bold" text-anchor="middle" dominant-baseline="central" font-family="DejaVu Sans, Liberation Sans, sans-serif">0.451</text>
<rect x="523.27" y="562.37" width="24.56" height="24.24" fill="#bacdeb"/>
<text transform="translate(535.55 573.66) scale(1 1.22)" font-size="6.35" fill="#1a0a0c" fill-opacity="0.78" font-weight="bold" text-anchor="middle" dominant-baseline="central" font-family="DejaVu Sans, Liberation Sans, sans-serif">0.444</text>
<rect x="548.84" y="562.37" width="24.56" height="24.24" fill="#bdcfeb"/>
<text transform="translate(561.12 573.66) scale(1 1.22)" font-size="6.35" fill="#1a0a0c" fill-opacity="0.78" font-weight="bold" text-anchor="middle" dominant-baseline="central" font-family="DejaVu Sans, Liberation Sans, sans-serif">0.453</text>
<rect x="139.8" y="587.89" width="24.56" height="24.24" fill="#e66e64"/>
<text transform="translate(152.08 599.18) scale(1 1.22)" font-size="6.35" fill="#1a0a0c" fill-opacity="0.78" font-weight="bold" text-anchor="middle" dominant-baseline="central" font-family="DejaVu Sans, Liberation Sans, sans-serif">175</text>
<rect x="165.36" y="587.89" width="24.56" height="24.24" fill="#e56d63"/>
<text transform="translate(177.65 599.18) scale(1 1.22)" font-size="6.35" fill="#1a0a0c" fill-opacity="0.78" font-weight="bold" text-anchor="middle" dominant-baseline="central" font-family="DejaVu Sans, Liberation Sans, sans-serif">173</text>
<rect x="190.93" y="587.89" width="24.56" height="24.24" fill="#e26961"/>
<text transform="translate(203.21 599.18) scale(1 1.22)" font-size="6.35" fill="#1a0a0c" fill-opacity="0.78" font-weight="bold" text-anchor="middle" dominant-baseline="central" font-family="DejaVu Sans, Liberation Sans, sans-serif">156</text>
<rect x="216.49" y="587.89" width="24.56" height="24.24" fill="#cf4d4f"/>
<text transform="translate(228.78 599.18) scale(1 1.22)" font-size="6.35" fill="#1a0a0c" fill-opacity="0.78" font-weight="bold" text-anchor="middle" dominant-baseline="central" font-family="DejaVu Sans, Liberation Sans, sans-serif">37</text>
<rect x="242.06" y="587.89" width="24.56" height="24.24" fill="#ee9584"/>
<text transform="translate(254.34 599.18) scale(1 1.22)" font-size="6.35" fill="#1a0a0c" fill-opacity="0.78" font-weight="bold" text-anchor="middle" dominant-baseline="central" font-family="DejaVu Sans, Liberation Sans, sans-serif">351</text>
<rect x="293.19" y="587.89" width="24.56" height="24.24" fill="#cf4e50"/>
<text transform="translate(305.47 599.18) scale(1 1.22)" font-size="6.35" fill="#1a0a0c" fill-opacity="0.78" font-weight="bold" text-anchor="middle" dominant-baseline="central" font-family="DejaVu Sans, Liberation Sans, sans-serif">0.972</text>
<rect x="318.75" y="587.89" width="24.56" height="24.24" fill="#e66f64"/>
<text transform="translate(331.04 599.18) scale(1 1.22)" font-size="6.35" fill="#1a0a0c" fill-opacity="0.78" font-weight="bold" text-anchor="middle" dominant-baseline="central" font-family="DejaVu Sans, Liberation Sans, sans-serif">0.885</text>
<rect x="344.32" y="587.89" width="24.56" height="24.24" fill="#e66f65"/>
<text transform="translate(356.6 599.18) scale(1 1.22)" font-size="6.35" fill="#1a0a0c" fill-opacity="0.78" font-weight="bold" text-anchor="middle" dominant-baseline="central" font-family="DejaVu Sans, Liberation Sans, sans-serif">0.883</text>
<rect x="369.88" y="587.89" width="24.56" height="24.24" fill="#e26860"/>
<text transform="translate(382.16 599.18) scale(1 1.22)" font-size="6.35" fill="#1a0a0c" fill-opacity="0.78" font-weight="bold" text-anchor="middle" dominant-baseline="central" font-family="DejaVu Sans, Liberation Sans, sans-serif">0.902</text>
<rect x="395.45" y="587.89" width="24.56" height="24.24" fill="#a4bbe6"/>
<text transform="translate(407.73 599.18) scale(1 1.22)" font-size="6.35" fill="#1a0a0c" fill-opacity="0.78" font-weight="bold" text-anchor="middle" dominant-baseline="central" font-family="DejaVu Sans, Liberation Sans, sans-serif">0.37</text>
<rect x="421.01" y="587.89" width="24.56" height="24.24" fill="#a3bae6"/>
<text transform="translate(433.29 599.18) scale(1 1.22)" font-size="6.35" fill="#1a0a0c" fill-opacity="0.78" font-weight="bold" text-anchor="middle" dominant-baseline="central" font-family="DejaVu Sans, Liberation Sans, sans-serif">0.365</text>
<rect x="446.58" y="587.89" width="24.56" height="24.24" fill="#a4bce6"/>
<text transform="translate(458.86 599.18) scale(1 1.22)" font-size="6.35" fill="#1a0a0c" fill-opacity="0.78" font-weight="bold" text-anchor="middle" dominant-baseline="central" font-family="DejaVu Sans, Liberation Sans, sans-serif">0.371</text>
<rect x="472.14" y="587.89" width="24.56" height="24.24" fill="#a5bce6"/>
<text transform="translate(484.42 599.18) scale(1 1.22)" font-size="6.35" fill="#1a0a0c" fill-opacity="0.78" font-weight="bold" text-anchor="middle" dominant-baseline="central" font-family="DejaVu Sans, Liberation Sans, sans-serif">0.372</text>
<rect x="497.71" y="587.89" width="24.56" height="24.24" fill="#b8ccea"/>
<text transform="translate(509.99 599.18) scale(1 1.22)" font-size="6.35" fill="#1a0a0c" fill-opacity="0.78" font-weight="bold" text-anchor="middle" dominant-baseline="central" font-family="DejaVu Sans, Liberation Sans, sans-serif">0.438</text>
<rect x="523.27" y="587.89" width="24.56" height="24.24" fill="#b2c7e9"/>
<text transform="translate(535.55 599.18) scale(1 1.22)" font-size="6.35" fill="#1a0a0c" fill-opacity="0.78" font-weight="bold" text-anchor="middle" dominant-baseline="central" font-family="DejaVu Sans, Liberation Sans, sans-serif">0.418</text>
<rect x="548.84" y="587.89" width="24.56" height="24.24" fill="#bdd0eb"/>
<text transform="translate(561.12 599.18) scale(1 1.22)" font-size="6.35" fill="#1a0a0c" fill-opacity="0.78" font-weight="bold" text-anchor="middle" dominant-baseline="central" font-family="DejaVu Sans, Liberation Sans, sans-serif">0.455</text>
<rect x="139.8" y="613.41" width="24.56" height="24.24" fill="#e36a62"/>
<text transform="translate(152.08 624.71) scale(1 1.22)" font-size="6.35" fill="#1a0a0c" fill-opacity="0.78" font-weight="bold" text-anchor="middle" dominant-baseline="central" font-family="DejaVu Sans, Liberation Sans, sans-serif">161</text>
<rect x="165.36" y="613.41" width="24.56" height="24.24" fill="#e66e64"/>
<text transform="translate(177.65 624.71) scale(1 1.22)" font-size="6.35" fill="#1a0a0c" fill-opacity="0.78" font-weight="bold" text-anchor="middle" dominant-baseline="central" font-family="DejaVu Sans, Liberation Sans, sans-serif">176</text>
<rect x="190.93" y="613.41" width="24.56" height="24.24" fill="#e66d64"/>
<text transform="translate(203.21 624.71) scale(1 1.22)" font-size="6.35" fill="#1a0a0c" fill-opacity="0.78" font-weight="bold" text-anchor="middle" dominant-baseline="central" font-family="DejaVu Sans, Liberation Sans, sans-serif">174</text>
<rect x="216.49" y="613.41" width="24.56" height="24.24" fill="#ce4c4e"/>
<text transform="translate(228.78 624.71) scale(1 1.22)" font-size="6.35" fill="#1a0a0c" fill-opacity="0.78" font-weight="bold" text-anchor="middle" dominant-baseline="central" font-family="DejaVu Sans, Liberation Sans, sans-serif">30</text>
<rect x="242.06" y="613.41" width="24.56" height="24.24" fill="#ee917f"/>
<text transform="translate(254.34 624.71) scale(1 1.22)" font-size="6.35" fill="#1a0a0c" fill-opacity="0.78" font-weight="bold" text-anchor="middle" dominant-baseline="central" font-family="DejaVu Sans, Liberation Sans, sans-serif">330</text>
<rect x="267.62" y="613.41" width="24.56" height="24.24" fill="#d15152"/>
<text transform="translate(279.91 624.71) scale(1 1.22)" font-size="6.35" fill="#1a0a0c" fill-opacity="0.78" font-weight="bold" text-anchor="middle" dominant-baseline="central" font-family="DejaVu Sans, Liberation Sans, sans-serif">56</text>
<rect x="318.75" y="613.41" width="24.56" height="24.24" fill="#e36961"/>
<text transform="translate(331.04 624.71) scale(1 1.22)" font-size="6.35" fill="#1a0a0c" fill-opacity="0.78" font-weight="bold" text-anchor="middle" dominant-baseline="central" font-family="DejaVu Sans, Liberation Sans, sans-serif">0.899</text>
<rect x="344.32" y="613.41" width="24.56" height="24.24" fill="#e36a62"/>
<text transform="translate(356.6 624.71) scale(1 1.22)" font-size="6.35" fill="#1a0a0c" fill-opacity="0.78" font-weight="bold" text-anchor="middle" dominant-baseline="central" font-family="DejaVu Sans, Liberation Sans, sans-serif">0.897</text>
<rect x="369.88" y="613.41" width="24.56" height="24.24" fill="#de635d"/>
<text transform="translate(382.16 624.71) scale(1 1.22)" font-size="6.35" fill="#1a0a0c" fill-opacity="0.78" font-weight="bold" text-anchor="middle" dominant-baseline="central" font-family="DejaVu Sans, Liberation Sans, sans-serif">0.917</text>
<rect x="395.45" y="613.41" width="24.56" height="24.24" fill="#a4bbe6"/>
<text transform="translate(407.73 624.71) scale(1 1.22)" font-size="6.35" fill="#1a0a0c" fill-opacity="0.78" font-weight="bold" text-anchor="middle" dominant-baseline="central" font-family="DejaVu Sans, Liberation Sans, sans-serif">0.37</text>
<rect x="421.01" y="613.41" width="24.56" height="24.24" fill="#a3bae6"/>
<text transform="translate(433.29 624.71) scale(1 1.22)" font-size="6.35" fill="#1a0a0c" fill-opacity="0.78" font-weight="bold" text-anchor="middle" dominant-baseline="central" font-family="DejaVu Sans, Liberation Sans, sans-serif">0.366</text>
<rect x="446.58" y="613.41" width="24.56" height="24.24" fill="#a4bbe6"/>
<text transform="translate(458.86 624.71) scale(1 1.22)" font-size="6.35" fill="#1a0a0c" fill-opacity="0.78" font-weight="bold" text-anchor="middle" dominant-baseline="central" font-family="DejaVu Sans, Liberation Sans, sans-serif">0.37</text>
<rect x="472.14" y="613.41" width="24.56" height="24.24" fill="#a5bce6"/>
<text transform="translate(484.42 624.71) scale(1 1.22)" font-size="6.35" fill="#1a0a0c" fill-opacity="0.78" font-weight="bold" text-anchor="middle" dominant-baseline="central" font-family="DejaVu Sans, Liberation Sans, sans-serif">0.373</text>
<rect x="497.71" y="613.41" width="24.56" height="24.24" fill="#b8cbea"/>
<text transform="translate(509.99 624.71) scale(1 1.22)" font-size="6.35" fill="#1a0a0c" fill-opacity="0.78" font-weight="bold" text-anchor="middle" dominant-baseline="central" font-family="DejaVu Sans, Liberation Sans, sans-serif">0.436</text>
<rect x="523.27" y="613.41" width="24.56" height="24.24" fill="#b2c6e9"/>
<text transform="translate(535.55 624.71) scale(1 1.22)" font-size="6.35" fill="#1a0a0c" fill-opacity="0.78" font-weight="bold" text-anchor="middle" dominant-baseline="central" font-family="DejaVu Sans, Liberation Sans, sans-serif">0.415</text>
<rect x="548.84" y="613.41" width="24.56" height="24.24" fill="#bfd1ec"/>
<text transform="translate(561.12 624.71) scale(1 1.22)" font-size="6.35" fill="#1a0a0c" fill-opacity="0.78" font-weight="bold" text-anchor="middle" dominant-baseline="central" font-family="DejaVu Sans, Liberation Sans, sans-serif">0.46</text>
<rect x="139.8" y="638.94" width="24.56" height="24.24" fill="#e8756a"/>
<text transform="translate(152.08 650.23) scale(1 1.22)" font-size="6.35" fill="#1a0a0c" fill-opacity="0.78" font-weight="bold" text-anchor="middle" dominant-baseline="central" font-family="DejaVu Sans, Liberation Sans, sans-serif">209</text>
<rect x="165.36" y="638.94" width="24.56" height="24.24" fill="#e8786b"/>
<text transform="translate(177.65 650.23) scale(1 1.22)" font-size="6.35" fill="#1a0a0c" fill-opacity="0.78" font-weight="bold" text-anchor="middle" dominant-baseline="central" font-family="DejaVu Sans, Liberation Sans, sans-serif">220</text>
<rect x="190.93" y="638.94" width="24.56" height="24.24" fill="#e9796c"/>
<text transform="translate(203.21 650.23) scale(1 1.22)" font-size="6.35" fill="#1a0a0c" fill-opacity="0.78" font-weight="bold" text-anchor="middle" dominant-baseline="central" font-family="DejaVu Sans, Liberation Sans, sans-serif">223</text>
<rect x="216.49" y="638.94" width="24.56" height="24.24" fill="#e87569"/>
<text transform="translate(228.78 650.23) scale(1 1.22)" font-size="6.35" fill="#1a0a0c" fill-opacity="0.78" font-weight="bold" text-anchor="middle" dominant-baseline="central" font-family="DejaVu Sans, Liberation Sans, sans-serif">206</text>
<rect x="242.06" y="638.94" width="24.56" height="24.24" fill="#ed9d8c"/>
<text transform="translate(254.34 650.23) scale(1 1.22)" font-size="6.35" fill="#1a0a0c" fill-opacity="0.78" font-weight="bold" text-anchor="middle" dominant-baseline="central" font-family="DejaVu Sans, Liberation Sans, sans-serif">389</text>
<rect x="267.62" y="638.94" width="24.56" height="24.24" fill="#e97a6d"/>
<text transform="translate(279.91 650.23) scale(1 1.22)" font-size="6.35" fill="#1a0a0c" fill-opacity="0.78" font-weight="bold" text-anchor="middle" dominant-baseline="central" font-family="DejaVu Sans, Liberation Sans, sans-serif">229</text>
<rect x="293.19" y="638.94" width="24.56" height="24.24" fill="#e77468"/>
<text transform="translate(305.47 650.23) scale(1 1.22)" font-size="6.35" fill="#1a0a0c" fill-opacity="0.78" font-weight="bold" text-anchor="middle" dominant-baseline="central" font-family="DejaVu Sans, Liberation Sans, sans-serif">201</text>
<rect x="344.32" y="638.94" width="24.56" height="24.24" fill="#cd484c"/>
<text transform="translate(356.6 650.23) scale(1 1.22)" font-size="6.35" fill="#1a0a0c" fill-opacity="0.78" font-weight="bold" text-anchor="middle" dominant-baseline="central" font-family="DejaVu Sans, Liberation Sans, sans-serif">0.993</text>
<rect x="369.88" y="638.94" width="24.56" height="24.24" fill="#ce4c4f"/>
<text transform="translate(382.16 650.23) scale(1 1.22)" font-size="6.35" fill="#1a0a0c" fill-opacity="0.78" font-weight="bold" text-anchor="middle" dominant-baseline="central" font-family="DejaVu Sans, Liberation Sans, sans-serif">0.978</text>
<rect x="395.45" y="638.94" width="24.56" height="24.24" fill="#a1b9e5"/>
<text transform="translate(407.73 650.23) scale(1 1.22)" font-size="6.35" fill="#1a0a0c" fill-opacity="0.78" font-weight="bold" text-anchor="middle" dominant-baseline="central" font-family="DejaVu Sans, Liberation Sans, sans-serif">0.36</text>
<rect x="421.01" y="638.94" width="24.56" height="24.24" fill="#a0b8e5"/>
<text transform="translate(433.29 650.23) scale(1 1.22)" font-size="6.35" fill="#1a0a0c" fill-opacity="0.78" font-weight="bold" text-anchor="middle" dominant-baseline="central" font-family="DejaVu Sans, Liberation Sans, sans-serif">0.356</text>
<rect x="446.58" y="638.94" width="24.56" height="24.24" fill="#a2bae6"/>
<text transform="translate(458.86 650.23) scale(1 1.22)" font-size="6.35" fill="#1a0a0c" fill-opacity="0.78" font-weight="bold" text-anchor="middle" dominant-baseline="central" font-family="DejaVu Sans, Liberation Sans, sans-serif">0.364</text>
<rect x="472.14" y="638.94" width="24.56" height="24.24" fill="#a2b9e5"/>
<text transform="translate(484.42 650.23) scale(1 1.22)" font-size="6.35" fill="#1a0a0c" fill-opacity="0.78" font-weight="bold" text-anchor="middle" dominant-baseline="central" font-family="DejaVu Sans, Liberation Sans, sans-serif">0.362</text>
<rect x="497.71" y="638.94" width="24.56" height="24.24" fill="#b8cbea"/>
<text transform="translate(509.99 650.23) scale(1 1.22)" font-size="6.35" fill="#1a0a0c" fill-opacity="0.78" font-weight="bold" text-anchor="middle" dominant-baseline="central" font-family="DejaVu Sans, Liberation Sans, sans-serif">0.436</text>
<rect x="523.27" y="638.94" width="24.56" height="24.24" fill="#afc4e8"/>
<text transform="translate(535.55 650.23) scale(1 1.22)" font-size="6.35" fill="#1a0a0c" fill-opacity="0.78" font-weight="bold" text-anchor="middle" dominant-baseline="central" font-family="DejaVu Sans, Liberation Sans, sans-serif">0.405</text>
<rect x="548.84" y="638.94" width="24.56" height="24.24" fill="#bed0ec"/>
<text transform="translate(561.12 650.23) scale(1 1.22)" font-size="6.35" fill="#1a0a0c" fill-opacity="0.78" font-weight="bold" text-anchor="middle" dominant-baseline="central" font-family="DejaVu Sans, Liberation Sans, sans-serif">0.457</text>
<rect x="139.8" y="664.46" width="24.56" height="24.24" fill="#e8776a"/>
<text transform="translate(152.08 675.75) scale(1 1.22)" font-size="6.35" fill="#1a0a0c" fill-opacity="0.78" font-weight="bold" text-anchor="middle" dominant-baseline="central" font-family="DejaVu Sans, Liberation Sans, sans-serif">214</text>
<rect x="165.36" y="664.46" width="24.56" height="24.24" fill="#e9796d"/>
<text transform="translate(177.65 675.75) scale(1 1.22)" font-size="6.35" fill="#1a0a0c" fill-opacity="0.78" font-weight="bold" text-anchor="middle" dominant-baseline="central" font-family="DejaVu Sans, Liberation Sans, sans-serif">226</text>
<rect x="190.93" y="664.46" width="24.56" height="24.24" fill="#e97a6d"/>
<text transform="translate(203.21 675.75) scale(1 1.22)" font-size="6.35" fill="#1a0a0c" fill-opacity="0.78" font-weight="bold" text-anchor="middle" dominant-baseline="central" font-family="DejaVu Sans, Liberation Sans, sans-serif">229</text>
<rect x="216.49" y="664.46" width="24.56" height="24.24" fill="#e8766a"/>
<text transform="translate(228.78 675.75) scale(1 1.22)" font-size="6.35" fill="#1a0a0c" fill-opacity="0.78" font-weight="bold" text-anchor="middle" dominant-baseline="central" font-family="DejaVu Sans, Liberation Sans, sans-serif">210</text>
<rect x="242.06" y="664.46" width="24.56" height="24.24" fill="#ed9d8d"/>
<text transform="translate(254.34 675.75) scale(1 1.22)" font-size="6.35" fill="#1a0a0c" fill-opacity="0.78" font-weight="bold" text-anchor="middle" dominant-baseline="central" font-family="DejaVu Sans, Liberation Sans, sans-serif">391</text>
<rect x="267.62" y="664.46" width="24.56" height="24.24" fill="#e97b6e"/>
<text transform="translate(279.91 675.75) scale(1 1.22)" font-size="6.35" fill="#1a0a0c" fill-opacity="0.78" font-weight="bold" text-anchor="middle" dominant-baseline="central" font-family="DejaVu Sans, Liberation Sans, sans-serif">233</text>
<rect x="293.19" y="664.46" width="24.56" height="24.24" fill="#e87569"/>
<text transform="translate(305.47 675.75) scale(1 1.22)" font-size="6.35" fill="#1a0a0c" fill-opacity="0.78" font-weight="bold" text-anchor="middle" dominant-baseline="central" font-family="DejaVu Sans, Liberation Sans, sans-serif">205</text>
<rect x="318.75" y="664.46" width="24.56" height="24.24" fill="#cd494c"/>
<text transform="translate(331.04 675.75) scale(1 1.22)" font-size="6.35" fill="#1a0a0c" fill-opacity="0.78" font-weight="bold" text-anchor="middle" dominant-baseline="central" font-family="DejaVu Sans, Liberation Sans, sans-serif">15</text>
<rect x="369.88" y="664.46" width="24.56" height="24.24" fill="#cf4d4f"/>
<text transform="translate(382.16 675.75) scale(1 1.22)" font-size="6.35" fill="#1a0a0c" fill-opacity="0.78" font-weight="bold" text-anchor="middle" dominant-baseline="central" font-family="DejaVu Sans, Liberation Sans, sans-serif">0.976</text>
<rect x="395.45" y="664.46" width="24.56" height="24.24" fill="#a1b9e5"/>
<text transform="translate(407.73 675.75) scale(1 1.22)" font-size="6.35" fill="#1a0a0c" fill-opacity="0.78" font-weight="bold" text-anchor="middle" dominant-baseline="central" font-family="DejaVu Sans, Liberation Sans, sans-serif">0.361</text>
<rect x="421.01" y="664.46" width="24.56" height="24.24" fill="#a0b8e5"/>
<text transform="translate(433.29 675.75) scale(1 1.22)" font-size="6.35" fill="#1a0a0c" fill-opacity="0.78" font-weight="bold" text-anchor="middle" dominant-baseline="central" font-family="DejaVu Sans, Liberation Sans, sans-serif">0.356</text>
<rect x="446.58" y="664.46" width="24.56" height="24.24" fill="#a3bae6"/>
<text transform="translate(458.86 675.75) scale(1 1.22)" font-size="6.35" fill="#1a0a0c" fill-opacity="0.78" font-weight="bold" text-anchor="middle" dominant-baseline="central" font-family="DejaVu Sans, Liberation Sans, sans-serif">0.365</text>
<rect x="472.14" y="664.46" width="24.56" height="24.24" fill="#a2bae6"/>
<text transform="translate(484.42 675.75) scale(1 1.22)" font-size="6.35" fill="#1a0a0c" fill-opacity="0.78" font-weight="bold" text-anchor="middle" dominant-baseline="central" font-family="DejaVu Sans, Liberation Sans, sans-serif">0.363</text>
<rect x="497.71" y="664.46" width="24.56" height="24.24" fill="#b8cbea"/>
<text transform="translate(509.99 675.75) scale(1 1.22)" font-size="6.35" fill="#1a0a0c" fill-opacity="0.78" font-weight="bold" text-anchor="middle" dominant-baseline="central" font-family="DejaVu Sans, Liberation Sans, sans-serif">0.436</text>
<rect x="523.27" y="664.46" width="24.56" height="24.24" fill="#afc4e8"/>
<text transform="translate(535.55 675.75) scale(1 1.22)" font-size="6.35" fill="#1a0a0c" fill-opacity="0.78" font-weight="bold" text-anchor="middle" dominant-baseline="central" font-family="DejaVu Sans, Liberation Sans, sans-serif">0.405</text>
<rect x="548.84" y="664.46" width="24.56" height="24.24" fill="#bed0ec"/>
<text transform="translate(561.12 675.75) scale(1 1.22)" font-size="6.35" fill="#1a0a0c" fill-opacity="0.78" font-weight="bold" text-anchor="middle" dominant-baseline="central" font-family="DejaVu Sans, Liberation Sans, sans-serif">0.457</text>
<rect x="139.8" y="689.98" width="24.56" height="24.24" fill="#e66e64"/>
<text transform="translate(152.08 701.28) scale(1 1.22)" font-size="6.35" fill="#1a0a0c" fill-opacity="0.78" font-weight="bold" text-anchor="middle" dominant-baseline="central" font-family="DejaVu Sans, Liberation Sans, sans-serif">176</text>
<rect x="165.36" y="689.98" width="24.56" height="24.24" fill="#e67065"/>
<text transform="translate(177.65 701.28) scale(1 1.22)" font-size="6.35" fill="#1a0a0c" fill-opacity="0.78" font-weight="bold" text-anchor="middle" dominant-baseline="central" font-family="DejaVu Sans, Liberation Sans, sans-serif">185</text>
<rect x="190.93" y="689.98" width="24.56" height="24.24" fill="#e77166"/>
<text transform="translate(203.21 701.28) scale(1 1.22)" font-size="6.35" fill="#1a0a0c" fill-opacity="0.78" font-weight="bold" text-anchor="middle" dominant-baseline="central" font-family="DejaVu Sans, Liberation Sans, sans-serif">188</text>
<rect x="216.49" y="689.98" width="24.56" height="24.24" fill="#e66d64"/>
<text transform="translate(228.78 701.28) scale(1 1.22)" font-size="6.35" fill="#1a0a0c" fill-opacity="0.78" font-weight="bold" text-anchor="middle" dominant-baseline="central" font-family="DejaVu Sans, Liberation Sans, sans-serif">174</text>
<rect x="242.06" y="689.98" width="24.56" height="24.24" fill="#ed9685"/>
<text transform="translate(254.34 701.28) scale(1 1.22)" font-size="6.35" fill="#1a0a0c" fill-opacity="0.78" font-weight="bold" text-anchor="middle" dominant-baseline="central" font-family="DejaVu Sans, Liberation Sans, sans-serif">357</text>
<rect x="267.62" y="689.98" width="24.56" height="24.24" fill="#e77267"/>
<text transform="translate(279.91 701.28) scale(1 1.22)" font-size="6.35" fill="#1a0a0c" fill-opacity="0.78" font-weight="bold" text-anchor="middle" dominant-baseline="central" font-family="DejaVu Sans, Liberation Sans, sans-serif">195</text>
<rect x="293.19" y="689.98" width="24.56" height="24.24" fill="#e46b62"/>
<text transform="translate(305.47 701.28) scale(1 1.22)" font-size="6.35" fill="#1a0a0c" fill-opacity="0.78" font-weight="bold" text-anchor="middle" dominant-baseline="central" font-family="DejaVu Sans, Liberation Sans, sans-serif">165</text>
<rect x="318.75" y="689.98" width="24.56" height="24.24" fill="#cf4e50"/>
<text transform="translate(331.04 701.28) scale(1 1.22)" font-size="6.35" fill="#1a0a0c" fill-opacity="0.78" font-weight="bold" text-anchor="middle" dominant-baseline="central" font-family="DejaVu Sans, Liberation Sans, sans-serif">44</text>
<rect x="344.32" y="689.98" width="24.56" height="24.24" fill="#d04f51"/>
<text transform="translate(356.6 701.28) scale(1 1.22)" font-size="6.35" fill="#1a0a0c" fill-opacity="0.78" font-weight="bold" text-anchor="middle" dominant-baseline="central" font-family="DejaVu Sans, Liberation Sans, sans-serif">49</text>
<rect x="395.45" y="689.98" width="24.56" height="24.24" fill="#a2bae6"/>
<text transform="translate(407.73 701.28) scale(1 1.22)" font-size="6.35" fill="#1a0a0c" fill-opacity="0.78" font-weight="bold" text-anchor="middle" dominant-baseline="central" font-family="DejaVu Sans, Liberation Sans, sans-serif">0.363</text>
<rect x="421.01" y="689.98" width="24.56" height="24.24" fill="#a1b9e5"/>
<text transform="translate(433.29 701.28) scale(1 1.22)" font-size="6.35" fill="#1a0a0c" fill-opacity="0.78" font-weight="bold" text-anchor="middle" dominant-baseline="central" font-family="DejaVu Sans, Liberation Sans, sans-serif">0.359</text>
<rect x="446.58" y="689.98" width="24.56" height="24.24" fill="#a3bbe6"/>
<text transform="translate(458.86 701.28) scale(1 1.22)" font-size="6.35" fill="#1a0a0c" fill-opacity="0.78" font-weight="bold" text-anchor="middle" dominant-baseline="central" font-family="DejaVu Sans, Liberation Sans, sans-serif">0.367</text>
<rect x="472.14" y="689.98" width="24.56" height="24.24" fill="#a3bae6"/>
<text transform="translate(484.42 701.28) scale(1 1.22)" font-size="6.35" fill="#1a0a0c" fill-opacity="0.78" font-weight="bold" text-anchor="middle" dominant-baseline="central" font-family="DejaVu Sans, Liberation Sans, sans-serif">0.365</text>
<rect x="497.71" y="689.98" width="24.56" height="24.24" fill="#b8cbea"/>
<text transform="translate(509.99 701.28) scale(1 1.22)" font-size="6.35" fill="#1a0a0c" fill-opacity="0.78" font-weight="bold" text-anchor="middle" dominant-baseline="central" font-family="DejaVu Sans, Liberation Sans, sans-serif">0.436</text>
<rect x="523.27" y="689.98" width="24.56" height="24.24" fill="#afc4e8"/>
<text transform="translate(535.55 701.28) scale(1 1.22)" font-size="6.35" fill="#1a0a0c" fill-opacity="0.78" font-weight="bold" text-anchor="middle" dominant-baseline="central" font-family="DejaVu Sans, Liberation Sans, sans-serif">0.406</text>
<rect x="548.84" y="689.98" width="24.56" height="24.24" fill="#c0d2ec"/>
<text transform="translate(561.12 701.28) scale(1 1.22)" font-size="6.35" fill="#1a0a0c" fill-opacity="0.78" font-weight="bold" text-anchor="middle" dominant-baseline="central" font-family="DejaVu Sans, Liberation Sans, sans-serif">0.463</text>
<rect x="139.8" y="715.51" width="24.56" height="24.24" fill="#7f98d6"/>
<text transform="translate(152.08 726.8) scale(1 1.22)" font-size="6.35" fill="#1a0a0c" fill-opacity="0.78" font-weight="bold" text-anchor="middle" dominant-baseline="central" font-family="DejaVu Sans, Liberation Sans, sans-serif">1220</text>
<rect x="165.36" y="715.51" width="24.56" height="24.24" fill="#819ad7"/>
<text transform="translate(177.65 726.8) scale(1 1.22)" font-size="6.35" fill="#1a0a0c" fill-opacity="0.78" font-weight="bold" text-anchor="middle" dominant-baseline="central" font-family="DejaVu Sans, Liberation Sans, sans-serif">1203</text>
<rect x="190.93" y="715.51" width="24.56" height="24.24" fill="#829bd7"/>
<text transform="translate(203.21 726.8) scale(1 1.22)" font-size="6.35" fill="#1a0a0c" fill-opacity="0.78" font-weight="bold" text-anchor="middle" dominant-baseline="central" font-family="DejaVu Sans, Liberation Sans, sans-serif">1202</text>
<rect x="216.49" y="715.51" width="24.56" height="24.24" fill="#768fd2"/>
<text transform="translate(228.78 726.8) scale(1 1.22)" font-size="6.35" fill="#1a0a0c" fill-opacity="0.78" font-weight="bold" text-anchor="middle" dominant-baseline="central" font-family="DejaVu Sans, Liberation Sans, sans-serif">1260</text>
<rect x="242.06" y="715.51" width="24.56" height="24.24" fill="#829bd8"/>
<text transform="translate(254.34 726.8) scale(1 1.22)" font-size="6.35" fill="#1a0a0c" fill-opacity="0.78" font-weight="bold" text-anchor="middle" dominant-baseline="central" font-family="DejaVu Sans, Liberation Sans, sans-serif">1197</text>
<rect x="267.62" y="715.51" width="24.56" height="24.24" fill="#768fd2"/>
<text transform="translate(279.91 726.8) scale(1 1.22)" font-size="6.35" fill="#1a0a0c" fill-opacity="0.78" font-weight="bold" text-anchor="middle" dominant-baseline="central" font-family="DejaVu Sans, Liberation Sans, sans-serif">1260</text>
<rect x="293.19" y="715.51" width="24.56" height="24.24" fill="#768fd2"/>
<text transform="translate(305.47 726.8) scale(1 1.22)" font-size="6.35" fill="#1a0a0c" fill-opacity="0.78" font-weight="bold" text-anchor="middle" dominant-baseline="central" font-family="DejaVu Sans, Liberation Sans, sans-serif">1260</text>
<rect x="318.75" y="715.51" width="24.56" height="24.24" fill="#728bd1"/>
<text transform="translate(331.04 726.8) scale(1 1.22)" font-size="6.35" fill="#1a0a0c" fill-opacity="0.78" font-weight="bold" text-anchor="middle" dominant-baseline="central" font-family="DejaVu Sans, Liberation Sans, sans-serif">1279</text>
<rect x="344.32" y="715.51" width="24.56" height="24.24" fill="#728bd1"/>
<text transform="translate(356.6 726.8) scale(1 1.22)" font-size="6.35" fill="#1a0a0c" fill-opacity="0.78" font-weight="bold" text-anchor="middle" dominant-baseline="central" font-family="DejaVu Sans, Liberation Sans, sans-serif">1278</text>
<rect x="369.88" y="715.51" width="24.56" height="24.24" fill="#738cd1"/>
<text transform="translate(382.16 726.8) scale(1 1.22)" font-size="6.35" fill="#1a0a0c" fill-opacity="0.78" font-weight="bold" text-anchor="middle" dominant-baseline="central" font-family="DejaVu Sans, Liberation Sans, sans-serif">1273</text>
<rect x="421.01" y="715.51" width="24.56" height="24.24" fill="#ce4d4f"/>
<text transform="translate(433.29 726.8) scale(1 1.22)" font-size="6.35" fill="#1a0a0c" fill-opacity="0.78" font-weight="bold" text-anchor="middle" dominant-baseline="central" font-family="DejaVu Sans, Liberation Sans, sans-serif">0.977</text>
<rect x="446.58" y="715.51" width="24.56" height="24.24" fill="#ce4c4f"/>
<text transform="translate(458.86 726.8) scale(1 1.22)" font-size="6.35" fill="#1a0a0c" fill-opacity="0.78" font-weight="bold" text-anchor="middle" dominant-baseline="central" font-family="DejaVu Sans, Liberation Sans, sans-serif">0.979</text>
<rect x="472.14" y="715.51" width="24.56" height="24.24" fill="#ce4a4d"/>
<text transform="translate(484.42 726.8) scale(1 1.22)" font-size="6.35" fill="#1a0a0c" fill-opacity="0.78" font-weight="bold" text-anchor="middle" dominant-baseline="central" font-family="DejaVu Sans, Liberation Sans, sans-serif">0.986</text>
<rect x="497.71" y="715.51" width="24.56" height="24.24" fill="#ddccc7"/>
<text transform="translate(509.99 726.8) scale(1 1.22)" font-size="6.35" fill="#1a0a0c" fill-opacity="0.78" font-weight="bold" text-anchor="middle" dominant-baseline="central" font-family="DejaVu Sans, Liberation Sans, sans-serif">0.583</text>
<rect x="523.27" y="715.51" width="24.56" height="24.24" fill="#e7beb1"/>
<text transform="translate(535.55 726.8) scale(1 1.22)" font-size="6.35" fill="#1a0a0c" fill-opacity="0.78" font-weight="bold" text-anchor="middle" dominant-baseline="central" font-family="DejaVu Sans, Liberation Sans, sans-serif">0.642</text>
<rect x="548.84" y="715.51" width="24.56" height="24.24" fill="#e6bfb2"/>
<text transform="translate(561.12 726.8) scale(1 1.22)" font-size="6.35" fill="#1a0a0c" fill-opacity="0.78" font-weight="bold" text-anchor="middle" dominant-baseline="central" font-family="DejaVu Sans, Liberation Sans, sans-serif">0.639</text>
<rect x="139.8" y="741.03" width="24.56" height="24.24" fill="#7d96d5"/>
<text transform="translate(152.08 752.32) scale(1 1.22)" font-size="6.35" fill="#1a0a0c" fill-opacity="0.78" font-weight="bold" text-anchor="middle" dominant-baseline="central" font-family="DejaVu Sans, Liberation Sans, sans-serif">1229</text>
<rect x="165.36" y="741.03" width="24.56" height="24.24" fill="#8099d7"/>
<text transform="translate(177.65 752.32) scale(1 1.22)" font-size="6.35" fill="#1a0a0c" fill-opacity="0.78" font-weight="bold" text-anchor="middle" dominant-baseline="central" font-family="DejaVu Sans, Liberation Sans, sans-serif">1211</text>
<rect x="190.93" y="741.03" width="24.56" height="24.24" fill="#8099d7"/>
<text transform="translate(203.21 752.32) scale(1 1.22)" font-size="6.35" fill="#1a0a0c" fill-opacity="0.78" font-weight="bold" text-anchor="middle" dominant-baseline="central" font-family="DejaVu Sans, Liberation Sans, sans-serif">1212</text>
<rect x="216.49" y="741.03" width="24.56" height="24.24" fill="#758dd2"/>
<text transform="translate(228.78 752.32) scale(1 1.22)" font-size="6.35" fill="#1a0a0c" fill-opacity="0.78" font-weight="bold" text-anchor="middle" dominant-baseline="central" font-family="DejaVu Sans, Liberation Sans, sans-serif">1268</text>
<rect x="242.06" y="741.03" width="24.56" height="24.24" fill="#819ad7"/>
<text transform="translate(254.34 752.32) scale(1 1.22)" font-size="6.35" fill="#1a0a0c" fill-opacity="0.78" font-weight="bold" text-anchor="middle" dominant-baseline="central" font-family="DejaVu Sans, Liberation Sans, sans-serif">1209</text>
<rect x="267.62" y="741.03" width="24.56" height="24.24" fill="#748dd2"/>
<text transform="translate(279.91 752.32) scale(1 1.22)" font-size="6.35" fill="#1a0a0c" fill-opacity="0.78" font-weight="bold" text-anchor="middle" dominant-baseline="central" font-family="DejaVu Sans, Liberation Sans, sans-serif">1270</text>
<rect x="293.19" y="741.03" width="24.56" height="24.24" fill="#758dd2"/>
<text transform="translate(305.47 752.32) scale(1 1.22)" font-size="6.35" fill="#1a0a0c" fill-opacity="0.78" font-weight="bold" text-anchor="middle" dominant-baseline="central" font-family="DejaVu Sans, Liberation Sans, sans-serif">1267</text>
<rect x="318.75" y="741.03" width="24.56" height="24.24" fill="#7089d0"/>
<text transform="translate(331.04 752.32) scale(1 1.22)" font-size="6.35" fill="#1a0a0c" fill-opacity="0.78" font-weight="bold" text-anchor="middle" dominant-baseline="central" font-family="DejaVu Sans, Liberation Sans, sans-serif">1288</text>
<rect x="344.32" y="741.03" width="24.56" height="24.24" fill="#7089d0"/>
<text transform="translate(356.6 752.32) scale(1 1.22)" font-size="6.35" fill="#1a0a0c" fill-opacity="0.78" font-weight="bold" text-anchor="middle" dominant-baseline="central" font-family="DejaVu Sans, Liberation Sans, sans-serif">1287</text>
<rect x="369.88" y="741.03" width="24.56" height="24.24" fill="#718ad0"/>
<text transform="translate(382.16 752.32) scale(1 1.22)" font-size="6.35" fill="#1a0a0c" fill-opacity="0.78" font-weight="bold" text-anchor="middle" dominant-baseline="central" font-family="DejaVu Sans, Liberation Sans, sans-serif">1282</text>
<rect x="395.45" y="741.03" width="24.56" height="24.24" fill="#d04f51"/>
<text transform="translate(407.73 752.32) scale(1 1.22)" font-size="6.35" fill="#1a0a0c" fill-opacity="0.78" font-weight="bold" text-anchor="middle" dominant-baseline="central" font-family="DejaVu Sans, Liberation Sans, sans-serif">47</text>
<rect x="446.58" y="741.03" width="24.56" height="24.24" fill="#d04f50"/>
<text transform="translate(458.86 752.32) scale(1 1.22)" font-size="6.35" fill="#1a0a0c" fill-opacity="0.78" font-weight="bold" text-anchor="middle" dominant-baseline="central" font-family="DejaVu Sans, Liberation Sans, sans-serif">0.97</text>
<rect x="472.14" y="741.03" width="24.56" height="24.24" fill="#ce4d4f"/>
<text transform="translate(484.42 752.32) scale(1 1.22)" font-size="6.35" fill="#1a0a0c" fill-opacity="0.78" font-weight="bold" text-anchor="middle" dominant-baseline="central" font-family="DejaVu Sans, Liberation Sans, sans-serif">0.977</text>
<rect x="497.71" y="741.03" width="24.56" height="24.24" fill="#ddccc7"/>
<text transform="translate(509.99 752.32) scale(1 1.22)" font-size="6.35" fill="#1a0a0c" fill-opacity="0.78" font-weight="bold" text-anchor="middle" dominant-baseline="central" font-family="DejaVu Sans, Liberation Sans, sans-serif">0.584</text>
<rect x="523.27" y="741.03" width="24.56" height="24.24" fill="#e6bfb3"/>
<text transform="translate(535.55 752.32) scale(1 1.22)" font-size="6.35" fill="#1a0a0c" fill-opacity="0.78" font-weight="bold" text-anchor="middle" dominant-baseline="central" font-family="DejaVu Sans, Liberation Sans, sans-serif">0.638</text>
<rect x="548.84" y="741.03" width="24.56" height="24.24" fill="#e7beb1"/>
<text transform="translate(561.12 752.32) scale(1 1.22)" font-size="6.35" fill="#1a0a0c" fill-opacity="0.78" font-weight="bold" text-anchor="middle" dominant-baseline="central" font-family="DejaVu Sans, Liberation Sans, sans-serif">0.642</text>
<rect x="139.8" y="766.55" width="24.56" height="24.24" fill="#7f98d6"/>
<text transform="translate(152.08 777.84) scale(1 1.22)" font-size="6.35" fill="#1a0a0c" fill-opacity="0.78" font-weight="bold" text-anchor="middle" dominant-baseline="central" font-family="DejaVu Sans, Liberation Sans, sans-serif">1216</text>
<rect x="165.36" y="766.55" width="24.56" height="24.24" fill="#829bd8"/>
<text transform="translate(177.65 777.84) scale(1 1.22)" font-size="6.35" fill="#1a0a0c" fill-opacity="0.78" font-weight="bold" text-anchor="middle" dominant-baseline="central" font-family="DejaVu Sans, Liberation Sans, sans-serif">1196</text>
<rect x="190.93" y="766.55" width="24.56" height="24.24" fill="#829bd8"/>
<text transform="translate(203.21 777.84) scale(1 1.22)" font-size="6.35" fill="#1a0a0c" fill-opacity="0.78" font-weight="bold" text-anchor="middle" dominant-baseline="central" font-family="DejaVu Sans, Liberation Sans, sans-serif">1196</text>
<rect x="216.49" y="766.55" width="24.56" height="24.24" fill="#778fd3"/>
<text transform="translate(228.78 777.84) scale(1 1.22)" font-size="6.35" fill="#1a0a0c" fill-opacity="0.78" font-weight="bold" text-anchor="middle" dominant-baseline="central" font-family="DejaVu Sans, Liberation Sans, sans-serif">1258</text>
<rect x="242.06" y="766.55" width="24.56" height="24.24" fill="#839cd8"/>
<text transform="translate(254.34 777.84) scale(1 1.22)" font-size="6.35" fill="#1a0a0c" fill-opacity="0.78" font-weight="bold" text-anchor="middle" dominant-baseline="central" font-family="DejaVu Sans, Liberation Sans, sans-serif">1191</text>
<rect x="267.62" y="766.55" width="24.56" height="24.24" fill="#778fd3"/>
<text transform="translate(279.91 777.84) scale(1 1.22)" font-size="6.35" fill="#1a0a0c" fill-opacity="0.78" font-weight="bold" text-anchor="middle" dominant-baseline="central" font-family="DejaVu Sans, Liberation Sans, sans-serif">1258</text>
<rect x="293.19" y="766.55" width="24.56" height="24.24" fill="#768fd2"/>
<text transform="translate(305.47 777.84) scale(1 1.22)" font-size="6.35" fill="#1a0a0c" fill-opacity="0.78" font-weight="bold" text-anchor="middle" dominant-baseline="central" font-family="DejaVu Sans, Liberation Sans, sans-serif">1259</text>
<rect x="318.75" y="766.55" width="24.56" height="24.24" fill="#748dd1"/>
<text transform="translate(331.04 777.84) scale(1 1.22)" font-size="6.35" fill="#1a0a0c" fill-opacity="0.78" font-weight="bold" text-anchor="middle" dominant-baseline="central" font-family="DejaVu Sans, Liberation Sans, sans-serif">1271</text>
<rect x="344.32" y="766.55" width="24.56" height="24.24" fill="#748dd2"/>
<text transform="translate(356.6 777.84) scale(1 1.22)" font-size="6.35" fill="#1a0a0c" fill-opacity="0.78" font-weight="bold" text-anchor="middle" dominant-baseline="central" font-family="DejaVu Sans, Liberation Sans, sans-serif">1270</text>
<rect x="369.88" y="766.55" width="24.56" height="24.24" fill="#758ed2"/>
<text transform="translate(382.16 777.84) scale(1 1.22)" font-size="6.35" fill="#1a0a0c" fill-opacity="0.78" font-weight="bold" text-anchor="middle" dominant-baseline="central" font-family="DejaVu Sans, Liberation Sans, sans-serif">1265</text>
<rect x="395.45" y="766.55" width="24.56" height="24.24" fill="#cf4e50"/>
<text transform="translate(407.73 777.84) scale(1 1.22)" font-size="6.35" fill="#1a0a0c" fill-opacity="0.78" font-weight="bold" text-anchor="middle" dominant-baseline="central" font-family="DejaVu Sans, Liberation Sans, sans-serif">42</text>
<rect x="421.01" y="766.55" width="24.56" height="24.24" fill="#d25253"/>
<text transform="translate(433.29 777.84) scale(1 1.22)" font-size="6.35" fill="#1a0a0c" fill-opacity="0.78" font-weight="bold" text-anchor="middle" dominant-baseline="central" font-family="DejaVu Sans, Liberation Sans, sans-serif">61</text>
<rect x="472.14" y="766.55" width="24.56" height="24.24" fill="#ce4c4f"/>
<text transform="translate(484.42 777.84) scale(1 1.22)" font-size="6.35" fill="#1a0a0c" fill-opacity="0.78" font-weight="bold" text-anchor="middle" dominant-baseline="central" font-family="DejaVu Sans, Liberation Sans, sans-serif">0.978</text>
<rect x="497.71" y="766.55" width="24.56" height="24.24" fill="#ddccc7"/>
<text transform="translate(509.99 777.84) scale(1 1.22)" font-size="6.35" fill="#1a0a0c" fill-opacity="0.78" font-weight="bold" text-anchor="middle" dominant-baseline="central" font-family="DejaVu Sans, Liberation Sans, sans-serif">0.584</text>
<rect x="523.27" y="766.55" width="24.56" height="24.24" fill="#e7beb1"/>
<text transform="translate(535.55 777.84) scale(1 1.22)" font-size="6.35" fill="#1a0a0c" fill-opacity="0.78" font-weight="bold" text-anchor="middle" dominant-baseline="central" font-family="DejaVu Sans, Liberation Sans, sans-serif">0.642</text>
<rect x="548.84" y="766.55" width="24.56" height="24.24" fill="#e7beb2"/>
<text transform="translate(561.12 777.84) scale(1 1.22)" font-size="6.35" fill="#1a0a0c" fill-opacity="0.78" font-weight="bold" text-anchor="middle" dominant-baseline="central" font-family="DejaVu Sans, Liberation Sans, sans-serif">0.641</text>
<rect x="139.8" y="792.07" width="24.56" height="24.24" fill="#7f98d6"/>
<text transform="translate(152.08 803.37) scale(1 1.22)" font-size="6.35" fill="#1a0a0c" fill-opacity="0.78" font-weight="bold" text-anchor="middle" dominant-baseline="central" font-family="DejaVu Sans, Liberation Sans, sans-serif">1216</text>
<rect x="165.36" y="792.07" width="24.56" height="24.24" fill="#829bd8"/>
<text transform="translate(177.65 803.37) scale(1 1.22)" font-size="6.35" fill="#1a0a0c" fill-opacity="0.78" font-weight="bold" text-anchor="middle" dominant-baseline="central" font-family="DejaVu Sans, Liberation Sans, sans-serif">1197</text>
<rect x="190.93" y="792.07" width="24.56" height="24.24" fill="#829bd8"/>
<text transform="translate(203.21 803.37) scale(1 1.22)" font-size="6.35" fill="#1a0a0c" fill-opacity="0.78" font-weight="bold" text-anchor="middle" dominant-baseline="central" font-family="DejaVu Sans, Liberation Sans, sans-serif">1197</text>
<rect x="216.49" y="792.07" width="24.56" height="24.24" fill="#7790d3"/>
<text transform="translate(228.78 803.37) scale(1 1.22)" font-size="6.35" fill="#1a0a0c" fill-opacity="0.78" font-weight="bold" text-anchor="middle" dominant-baseline="central" font-family="DejaVu Sans, Liberation Sans, sans-serif">1255</text>
<rect x="242.06" y="792.07" width="24.56" height="24.24" fill="#839cd8"/>
<text transform="translate(254.34 803.37) scale(1 1.22)" font-size="6.35" fill="#1a0a0c" fill-opacity="0.78" font-weight="bold" text-anchor="middle" dominant-baseline="central" font-family="DejaVu Sans, Liberation Sans, sans-serif">1191</text>
<rect x="267.62" y="792.07" width="24.56" height="24.24" fill="#7790d3"/>
<text transform="translate(279.91 803.37) scale(1 1.22)" font-size="6.35" fill="#1a0a0c" fill-opacity="0.78" font-weight="bold" text-anchor="middle" dominant-baseline="central" font-family="DejaVu Sans, Liberation Sans, sans-serif">1255</text>
<rect x="293.19" y="792.07" width="24.56" height="24.24" fill="#7890d3"/>
<text transform="translate(305.47 803.37) scale(1 1.22)" font-size="6.35" fill="#1a0a0c" fill-opacity="0.78" font-weight="bold" text-anchor="middle" dominant-baseline="central" font-family="DejaVu Sans, Liberation Sans, sans-serif">1254</text>
<rect x="318.75" y="792.07" width="24.56" height="24.24" fill="#738cd1"/>
<text transform="translate(331.04 803.37) scale(1 1.22)" font-size="6.35" fill="#1a0a0c" fill-opacity="0.78" font-weight="bold" text-anchor="middle" dominant-baseline="central" font-family="DejaVu Sans, Liberation Sans, sans-serif">1275</text>
<rect x="344.32" y="792.07" width="24.56" height="24.24" fill="#738cd1"/>
<text transform="translate(356.6 803.37) scale(1 1.22)" font-size="6.35" fill="#1a0a0c" fill-opacity="0.78" font-weight="bold" text-anchor="middle" dominant-baseline="central" font-family="DejaVu Sans, Liberation Sans, sans-serif">1274</text>
<rect x="369.88" y="792.07" width="24.56" height="24.24" fill="#748dd2"/>
<text transform="translate(382.16 803.37) scale(1 1.22)" font-size="6.35" fill="#1a0a0c" fill-opacity="0.78" font-weight="bold" text-anchor="middle" dominant-baseline="central" font-family="DejaVu Sans, Liberation Sans, sans-serif">1269</text>
<rect x="395.45" y="792.07" width="24.56" height="24.24" fill="#ce4b4e"/>
<text transform="translate(407.73 803.37) scale(1 1.22)" font-size="6.35" fill="#1a0a0c" fill-opacity="0.78" font-weight="bold" text-anchor="middle" dominant-baseline="central" font-family="DejaVu Sans, Liberation Sans, sans-serif">28</text>
<rect x="421.01" y="792.07" width="24.56" height="24.24" fill="#cf4f50"/>
<text transform="translate(433.29 803.37) scale(1 1.22)" font-size="6.35" fill="#1a0a0c" fill-opacity="0.78" font-weight="bold" text-anchor="middle" dominant-baseline="central" font-family="DejaVu Sans, Liberation Sans, sans-serif">46</text>
<rect x="446.58" y="792.07" width="24.56" height="24.24" fill="#cf4e50"/>
<text transform="translate(458.86 803.37) scale(1 1.22)" font-size="6.35" fill="#1a0a0c" fill-opacity="0.78" font-weight="bold" text-anchor="middle" dominant-baseline="central" font-family="DejaVu Sans, Liberation Sans, sans-serif">45</text>
<rect x="497.71" y="792.07" width="24.56" height="24.24" fill="#ddccc7"/>
<text transform="translate(509.99 803.37) scale(1 1.22)" font-size="6.35" fill="#1a0a0c" fill-opacity="0.78" font-weight="bold" text-anchor="middle" dominant-baseline="central" font-family="DejaVu Sans, Liberation Sans, sans-serif">0.583</text>
<rect x="523.27" y="792.07" width="24.56" height="24.24" fill="#e6bfb2"/>
<text transform="translate(535.55 803.37) scale(1 1.22)" font-size="6.35" fill="#1a0a0c" fill-opacity="0.78" font-weight="bold" text-anchor="middle" dominant-baseline="central" font-family="DejaVu Sans, Liberation Sans, sans-serif">0.639</text>
<rect x="548.84" y="792.07" width="24.56" height="24.24" fill="#e6bfb3"/>
<text transform="translate(561.12 803.37) scale(1 1.22)" font-size="6.35" fill="#1a0a0c" fill-opacity="0.78" font-weight="bold" text-anchor="middle" dominant-baseline="central" font-family="DejaVu Sans, Liberation Sans, sans-serif">0.638</text>
<rect x="139.8" y="817.6" width="24.56" height="24.24" fill="#92abe0"/>
<text transform="translate(152.08 828.89) scale(1 1.22)" font-size="6.35" fill="#1a0a0c" fill-opacity="0.78" font-weight="bold" text-anchor="middle" dominant-baseline="central" font-family="DejaVu Sans, Liberation Sans, sans-serif">1086</text>
<rect x="165.36" y="817.6" width="24.56" height="24.24" fill="#96afe2"/>
<text transform="translate(177.65 828.89) scale(1 1.22)" font-size="6.35" fill="#1a0a0c" fill-opacity="0.78" font-weight="bold" text-anchor="middle" dominant-baseline="central" font-family="DejaVu Sans, Liberation Sans, sans-serif">1060</text>
<rect x="190.93" y="817.6" width="24.56" height="24.24" fill="#94ade1"/>
<text transform="translate(203.21 828.89) scale(1 1.22)" font-size="6.35" fill="#1a0a0c" fill-opacity="0.78" font-weight="bold" text-anchor="middle" dominant-baseline="central" font-family="DejaVu Sans, Liberation Sans, sans-serif">1073</text>
<rect x="216.49" y="817.6" width="24.56" height="24.24" fill="#8da6dd"/>
<text transform="translate(228.78 828.89) scale(1 1.22)" font-size="6.35" fill="#1a0a0c" fill-opacity="0.78" font-weight="bold" text-anchor="middle" dominant-baseline="central" font-family="DejaVu Sans, Liberation Sans, sans-serif">1126</text>
<rect x="242.06" y="817.6" width="24.56" height="24.24" fill="#91aadf"/>
<text transform="translate(254.34 828.89) scale(1 1.22)" font-size="6.35" fill="#1a0a0c" fill-opacity="0.78" font-weight="bold" text-anchor="middle" dominant-baseline="central" font-family="DejaVu Sans, Liberation Sans, sans-serif">1098</text>
<rect x="267.62" y="817.6" width="24.56" height="24.24" fill="#8da6dd"/>
<text transform="translate(279.91 828.89) scale(1 1.22)" font-size="6.35" fill="#1a0a0c" fill-opacity="0.78" font-weight="bold" text-anchor="middle" dominant-baseline="central" font-family="DejaVu Sans, Liberation Sans, sans-serif">1124</text>
<rect x="293.19" y="817.6" width="24.56" height="24.24" fill="#8ca5dd"/>
<text transform="translate(305.47 828.89) scale(1 1.22)" font-size="6.35" fill="#1a0a0c" fill-opacity="0.78" font-weight="bold" text-anchor="middle" dominant-baseline="central" font-family="DejaVu Sans, Liberation Sans, sans-serif">1127</text>
<rect x="318.75" y="817.6" width="24.56" height="24.24" fill="#8ca5dd"/>
<text transform="translate(331.04 828.89) scale(1 1.22)" font-size="6.35" fill="#1a0a0c" fill-opacity="0.78" font-weight="bold" text-anchor="middle" dominant-baseline="central" font-family="DejaVu Sans, Liberation Sans, sans-serif">1128</text>
<rect x="344.32" y="817.6" width="24.56" height="24.24" fill="#8ca5dd"/>
<text transform="translate(356.6 828.89) scale(1 1.22)" font-size="6.35" fill="#1a0a0c" fill-opacity="0.78" font-weight="bold" text-anchor="middle" dominant-baseline="central" font-family="DejaVu Sans, Liberation Sans, sans-serif">1128</text>
<rect x="369.88" y="817.6" width="24.56" height="24.24" fill="#8ca5dd"/>
<text transform="translate(382.16 828.89) scale(1 1.22)" font-size="6.35" fill="#1a0a0c" fill-opacity="0.78" font-weight="bold" text-anchor="middle" dominant-baseline="central" font-family="DejaVu Sans, Liberation Sans, sans-serif">1128</text>
<rect x="395.45" y="817.6" width="24.56" height="24.24" fill="#c0d2ec"/>
<text transform="translate(407.73 828.89) scale(1 1.22)" font-size="6.35" fill="#1a0a0c" fill-opacity="0.78" font-weight="bold" text-anchor="middle" dominant-baseline="central" font-family="DejaVu Sans, Liberation Sans, sans-serif">835</text>
<rect x="421.01" y="817.6" width="24.56" height="24.24" fill="#c0d2ec"/>
<text transform="translate(433.29 828.89) scale(1 1.22)" font-size="6.35" fill="#1a0a0c" fill-opacity="0.78" font-weight="bold" text-anchor="middle" dominant-baseline="central" font-family="DejaVu Sans, Liberation Sans, sans-serif">832</text>
<rect x="446.58" y="817.6" width="24.56" height="24.24" fill="#c0d2ec"/>
<text transform="translate(458.86 828.89) scale(1 1.22)" font-size="6.35" fill="#1a0a0c" fill-opacity="0.78" font-weight="bold" text-anchor="middle" dominant-baseline="central" font-family="DejaVu Sans, Liberation Sans, sans-serif">832</text>
<rect x="472.14" y="817.6" width="24.56" height="24.24" fill="#c0d2ec"/>
<text transform="translate(484.42 828.89) scale(1 1.22)" font-size="6.35" fill="#1a0a0c" fill-opacity="0.78" font-weight="bold" text-anchor="middle" dominant-baseline="central" font-family="DejaVu Sans, Liberation Sans, sans-serif">835</text>
<rect x="523.27" y="817.6" width="24.56" height="24.24" fill="#eca798"/>
<text transform="translate(535.55 828.89) scale(1 1.22)" font-size="6.35" fill="#1a0a0c" fill-opacity="0.78" font-weight="bold" text-anchor="middle" dominant-baseline="central" font-family="DejaVu Sans, Liberation Sans, sans-serif">0.716</text>
<rect x="548.84" y="817.6" width="24.56" height="24.24" fill="#ed9685"/>
<text transform="translate(561.12 828.89) scale(1 1.22)" font-size="6.35" fill="#1a0a0c" fill-opacity="0.78" font-weight="bold" text-anchor="middle" dominant-baseline="central" font-family="DejaVu Sans, Liberation Sans, sans-serif">0.771</text>
<rect x="139.8" y="843.12" width="24.56" height="24.24" fill="#8ca5dc"/>
<text transform="translate(152.08 854.41) scale(1 1.22)" font-size="6.35" fill="#1a0a0c" fill-opacity="0.78" font-weight="bold" text-anchor="middle" dominant-baseline="central" font-family="DejaVu Sans, Liberation Sans, sans-serif">1132</text>
<rect x="165.36" y="843.12" width="24.56" height="24.24" fill="#8da6dd"/>
<text transform="translate(177.65 854.41) scale(1 1.22)" font-size="6.35" fill="#1a0a0c" fill-opacity="0.78" font-weight="bold" text-anchor="middle" dominant-baseline="central" font-family="DejaVu Sans, Liberation Sans, sans-serif">1124</text>
<rect x="190.93" y="843.12" width="24.56" height="24.24" fill="#8da6dd"/>
<text transform="translate(203.21 854.41) scale(1 1.22)" font-size="6.35" fill="#1a0a0c" fill-opacity="0.78" font-weight="bold" text-anchor="middle" dominant-baseline="central" font-family="DejaVu Sans, Liberation Sans, sans-serif">1125</text>
<rect x="216.49" y="843.12" width="24.56" height="24.24" fill="#869fd9"/>
<text transform="translate(228.78 854.41) scale(1 1.22)" font-size="6.35" fill="#1a0a0c" fill-opacity="0.78" font-weight="bold" text-anchor="middle" dominant-baseline="central" font-family="DejaVu Sans, Liberation Sans, sans-serif">1173</text>
<rect x="242.06" y="843.12" width="24.56" height="24.24" fill="#8fa8de"/>
<text transform="translate(254.34 854.41) scale(1 1.22)" font-size="6.35" fill="#1a0a0c" fill-opacity="0.78" font-weight="bold" text-anchor="middle" dominant-baseline="central" font-family="DejaVu Sans, Liberation Sans, sans-serif">1112</text>
<rect x="267.62" y="843.12" width="24.56" height="24.24" fill="#87a0da"/>
<text transform="translate(279.91 854.41) scale(1 1.22)" font-size="6.35" fill="#1a0a0c" fill-opacity="0.78" font-weight="bold" text-anchor="middle" dominant-baseline="central" font-family="DejaVu Sans, Liberation Sans, sans-serif">1164</text>
<rect x="293.19" y="843.12" width="24.56" height="24.24" fill="#869fda"/>
<text transform="translate(305.47 854.41) scale(1 1.22)" font-size="6.35" fill="#1a0a0c" fill-opacity="0.78" font-weight="bold" text-anchor="middle" dominant-baseline="central" font-family="DejaVu Sans, Liberation Sans, sans-serif">1169</text>
<rect x="318.75" y="843.12" width="24.56" height="24.24" fill="#839cd8"/>
<text transform="translate(331.04 854.41) scale(1 1.22)" font-size="6.35" fill="#1a0a0c" fill-opacity="0.78" font-weight="bold" text-anchor="middle" dominant-baseline="central" font-family="DejaVu Sans, Liberation Sans, sans-serif">1190</text>
<rect x="344.32" y="843.12" width="24.56" height="24.24" fill="#839cd8"/>
<text transform="translate(356.6 854.41) scale(1 1.22)" font-size="6.35" fill="#1a0a0c" fill-opacity="0.78" font-weight="bold" text-anchor="middle" dominant-baseline="central" font-family="DejaVu Sans, Liberation Sans, sans-serif">1190</text>
<rect x="369.88" y="843.12" width="24.56" height="24.24" fill="#849dd8"/>
<text transform="translate(382.16 854.41) scale(1 1.22)" font-size="6.35" fill="#1a0a0c" fill-opacity="0.78" font-weight="bold" text-anchor="middle" dominant-baseline="central" font-family="DejaVu Sans, Liberation Sans, sans-serif">1187</text>
<rect x="395.45" y="843.12" width="24.56" height="24.24" fill="#d5d6d7"/>
<text transform="translate(407.73 854.41) scale(1 1.22)" font-size="6.35" fill="#1a0a0c" fill-opacity="0.78" font-weight="bold" text-anchor="middle" dominant-baseline="central" font-family="DejaVu Sans, Liberation Sans, sans-serif">716</text>
<rect x="421.01" y="843.12" width="24.56" height="24.24" fill="#d4d6d8"/>
<text transform="translate(433.29 854.41) scale(1 1.22)" font-size="6.35" fill="#1a0a0c" fill-opacity="0.78" font-weight="bold" text-anchor="middle" dominant-baseline="central" font-family="DejaVu Sans, Liberation Sans, sans-serif">723</text>
<rect x="446.58" y="843.12" width="24.56" height="24.24" fill="#d5d6d7"/>
<text transform="translate(458.86 854.41) scale(1 1.22)" font-size="6.35" fill="#1a0a0c" fill-opacity="0.78" font-weight="bold" text-anchor="middle" dominant-baseline="central" font-family="DejaVu Sans, Liberation Sans, sans-serif">716</text>
<rect x="472.14" y="843.12" width="24.56" height="24.24" fill="#d4d6d8"/>
<text transform="translate(484.42 854.41) scale(1 1.22)" font-size="6.35" fill="#1a0a0c" fill-opacity="0.78" font-weight="bold" text-anchor="middle" dominant-baseline="central" font-family="DejaVu Sans, Liberation Sans, sans-serif">721</text>
<rect x="497.71" y="843.12" width="24.56" height="24.24" fill="#e6c0b4"/>
<text transform="translate(509.99 854.41) scale(1 1.22)" font-size="6.35" fill="#1a0a0c" fill-opacity="0.78" font-weight="bold" text-anchor="middle" dominant-baseline="central" font-family="DejaVu Sans, Liberation Sans, sans-serif">569</text>
<rect x="548.84" y="843.12" width="24.56" height="24.24" fill="#ee8e7c"/>
<text transform="translate(561.12 854.41) scale(1 1.22)" font-size="6.35" fill="#1a0a0c" fill-opacity="0.78" font-weight="bold" text-anchor="middle" dominant-baseline="central" font-family="DejaVu Sans, Liberation Sans, sans-serif">0.798</text>
<rect x="139.8" y="868.64" width="24.56" height="24.24" fill="#9bb4e4"/>
<text transform="translate(152.08 879.93) scale(1 1.22)" font-size="6.35" fill="#1a0a0c" fill-opacity="0.78" font-weight="bold" text-anchor="middle" dominant-baseline="central" font-family="DejaVu Sans, Liberation Sans, sans-serif">1027</text>
<rect x="165.36" y="868.64" width="24.56" height="24.24" fill="#9bb4e4"/>
<text transform="translate(177.65 879.93) scale(1 1.22)" font-size="6.35" fill="#1a0a0c" fill-opacity="0.78" font-weight="bold" text-anchor="middle" dominant-baseline="central" font-family="DejaVu Sans, Liberation Sans, sans-serif">1031</text>
<rect x="190.93" y="868.64" width="24.56" height="24.24" fill="#9eb6e5"/>
<text transform="translate(203.21 879.93) scale(1 1.22)" font-size="6.35" fill="#1a0a0c" fill-opacity="0.78" font-weight="bold" text-anchor="middle" dominant-baseline="central" font-family="DejaVu Sans, Liberation Sans, sans-serif">1012</text>
<rect x="216.49" y="868.64" width="24.56" height="24.24" fill="#92abdf"/>
<text transform="translate(228.78 879.93) scale(1 1.22)" font-size="6.35" fill="#1a0a0c" fill-opacity="0.78" font-weight="bold" text-anchor="middle" dominant-baseline="central" font-family="DejaVu Sans, Liberation Sans, sans-serif">1090</text>
<rect x="242.06" y="868.64" width="24.56" height="24.24" fill="#91aadf"/>
<text transform="translate(254.34 879.93) scale(1 1.22)" font-size="6.35" fill="#1a0a0c" fill-opacity="0.78" font-weight="bold" text-anchor="middle" dominant-baseline="central" font-family="DejaVu Sans, Liberation Sans, sans-serif">1095</text>
<rect x="267.62" y="868.64" width="24.56" height="24.24" fill="#92abe0"/>
<text transform="translate(279.91 879.93) scale(1 1.22)" font-size="6.35" fill="#1a0a0c" fill-opacity="0.78" font-weight="bold" text-anchor="middle" dominant-baseline="central" font-family="DejaVu Sans, Liberation Sans, sans-serif">1089</text>
<rect x="293.19" y="868.64" width="24.56" height="24.24" fill="#93ace0"/>
<text transform="translate(305.47 879.93) scale(1 1.22)" font-size="6.35" fill="#1a0a0c" fill-opacity="0.78" font-weight="bold" text-anchor="middle" dominant-baseline="central" font-family="DejaVu Sans, Liberation Sans, sans-serif">1080</text>
<rect x="318.75" y="868.64" width="24.56" height="24.24" fill="#92abe0"/>
<text transform="translate(331.04 879.93) scale(1 1.22)" font-size="6.35" fill="#1a0a0c" fill-opacity="0.78" font-weight="bold" text-anchor="middle" dominant-baseline="central" font-family="DejaVu Sans, Liberation Sans, sans-serif">1086</text>
<rect x="344.32" y="868.64" width="24.56" height="24.24" fill="#92abe0"/>
<text transform="translate(356.6 879.93) scale(1 1.22)" font-size="6.35" fill="#1a0a0c" fill-opacity="0.78" font-weight="bold" text-anchor="middle" dominant-baseline="central" font-family="DejaVu Sans, Liberation Sans, sans-serif">1086</text>
<rect x="369.88" y="868.64" width="24.56" height="24.24" fill="#94ade1"/>
<text transform="translate(382.16 879.93) scale(1 1.22)" font-size="6.35" fill="#1a0a0c" fill-opacity="0.78" font-weight="bold" text-anchor="middle" dominant-baseline="central" font-family="DejaVu Sans, Liberation Sans, sans-serif">1074</text>
<rect x="395.45" y="868.64" width="24.56" height="24.24" fill="#d4d6d8"/>
<text transform="translate(407.73 879.93) scale(1 1.22)" font-size="6.35" fill="#1a0a0c" fill-opacity="0.78" font-weight="bold" text-anchor="middle" dominant-baseline="central" font-family="DejaVu Sans, Liberation Sans, sans-serif">722</text>
<rect x="421.01" y="868.64" width="24.56" height="24.24" fill="#d5d6d7"/>
<text transform="translate(433.29 879.93) scale(1 1.22)" font-size="6.35" fill="#1a0a0c" fill-opacity="0.78" font-weight="bold" text-anchor="middle" dominant-baseline="central" font-family="DejaVu Sans, Liberation Sans, sans-serif">716</text>
<rect x="446.58" y="868.64" width="24.56" height="24.24" fill="#d5d6d7"/>
<text transform="translate(458.86 879.93) scale(1 1.22)" font-size="6.35" fill="#1a0a0c" fill-opacity="0.78" font-weight="bold" text-anchor="middle" dominant-baseline="central" font-family="DejaVu Sans, Liberation Sans, sans-serif">717</text>
<rect x="472.14" y="868.64" width="24.56" height="24.24" fill="#d3d6d9"/>
<text transform="translate(484.42 879.93) scale(1 1.22)" font-size="6.35" fill="#1a0a0c" fill-opacity="0.78" font-weight="bold" text-anchor="middle" dominant-baseline="central" font-family="DejaVu Sans, Liberation Sans, sans-serif">724</text>
<rect x="497.71" y="868.64" width="24.56" height="24.24" fill="#ecaa9b"/>
<text transform="translate(509.99 879.93) scale(1 1.22)" font-size="6.35" fill="#1a0a0c" fill-opacity="0.78" font-weight="bold" text-anchor="middle" dominant-baseline="central" font-family="DejaVu Sans, Liberation Sans, sans-serif">457</text>
<rect x="523.27" y="868.64" width="24.56" height="24.24" fill="#ebafa1"/>
<text transform="translate(535.55 879.93) scale(1 1.22)" font-size="6.35" fill="#1a0a0c" fill-opacity="0.78" font-weight="bold" text-anchor="middle" dominant-baseline="central" font-family="DejaVu Sans, Liberation Sans, sans-serif">484</text>
<line x1="137.9" y1="472.4" x2="139.7" y2="472.4" stroke="#222" stroke-width="1.5" stroke-linecap="butt"/>
<text transform="translate(133.9 472.55)" font-size="10" fill="#262626" font-weight="normal" text-anchor="end" dominant-baseline="central" font-family="DejaVu Sans, Liberation Sans, sans-serif" stroke="#262626" stroke-width="0.25">BY7-1</text>
<line x1="152.08" y1="893.67" x2="152.08" y2="895.78" stroke="#222" stroke-width="1.2" stroke-linecap="butt"/>
<text x="152.08" y="898.49" font-size="10" fill="#262626" stroke="#262626" stroke-width="0.25" text-anchor="end" dominant-baseline="central" font-family="DejaVu Sans, Liberation Sans, sans-serif" transform="rotate(-90 152.08 898.49)">BY7-1</text>
<line x1="137.9" y1="497.92" x2="139.7" y2="497.92" stroke="#222" stroke-width="1.5" stroke-linecap="butt"/>
<text transform="translate(133.9 498.07)" font-size="10" fill="#262626" font-weight="normal" text-anchor="end" dominant-baseline="central" font-family="DejaVu Sans, Liberation Sans, sans-serif" stroke="#262626" stroke-width="0.25">BY7-2</text>
<line x1="177.65" y1="893.67" x2="177.65" y2="895.78" stroke="#222" stroke-width="1.2" stroke-linecap="butt"/>
<text x="177.65" y="898.49" font-size="10" fill="#262626" stroke="#262626" stroke-width="0.25" text-anchor="end" dominant-baseline="central" font-family="DejaVu Sans, Liberation Sans, sans-serif" transform="rotate(-90 177.65 898.49)">BY7-2</text>
<line x1="137.9" y1="523.45" x2="139.7" y2="523.45" stroke="#222" stroke-width="1.5" stroke-linecap="butt"/>
<text transform="translate(133.9 523.6)" font-size="10" fill="#262626" font-weight="normal" text-anchor="end" dominant-baseline="central" font-family="DejaVu Sans, Liberation Sans, sans-serif" stroke="#262626" stroke-width="0.25">BY7-3</text>
<line x1="203.21" y1="893.67" x2="203.21" y2="895.78" stroke="#222" stroke-width="1.2" stroke-linecap="butt"/>
<text x="203.21" y="898.49" font-size="10" fill="#262626" stroke="#262626" stroke-width="0.25" text-anchor="end" dominant-baseline="central" font-family="DejaVu Sans, Liberation Sans, sans-serif" transform="rotate(-90 203.21 898.49)">BY7-3</text>
<line x1="137.9" y1="548.97" x2="139.7" y2="548.97" stroke="#222" stroke-width="1.5" stroke-linecap="butt"/>
<text transform="translate(133.9 549.12)" font-size="10" fill="#262626" font-weight="normal" text-anchor="end" dominant-baseline="central" font-family="DejaVu Sans, Liberation Sans, sans-serif" stroke="#262626" stroke-width="0.25">BY9-1</text>
<line x1="228.78" y1="893.67" x2="228.78" y2="895.78" stroke="#222" stroke-width="1.2" stroke-linecap="butt"/>
<text x="228.78" y="898.49" font-size="10" fill="#262626" stroke="#262626" stroke-width="0.25" text-anchor="end" dominant-baseline="central" font-family="DejaVu Sans, Liberation Sans, sans-serif" transform="rotate(-90 228.78 898.49)">BY9-1</text>
<line x1="137.9" y1="574.49" x2="139.7" y2="574.49" stroke="#222" stroke-width="1.5" stroke-linecap="butt"/>
<text transform="translate(133.9 574.64)" font-size="10" fill="#262626" font-weight="normal" text-anchor="end" dominant-baseline="central" font-family="DejaVu Sans, Liberation Sans, sans-serif" stroke="#262626" stroke-width="0.25">BY9-2</text>
<line x1="254.34" y1="893.67" x2="254.34" y2="895.78" stroke="#222" stroke-width="1.2" stroke-linecap="butt"/>
<text x="254.34" y="898.49" font-size="10" fill="#262626" stroke="#262626" stroke-width="0.25" text-anchor="end" dominant-baseline="central" font-family="DejaVu Sans, Liberation Sans, sans-serif" transform="rotate(-90 254.34 898.49)">BY9-2</text>
<line x1="137.9" y1="600.01" x2="139.7" y2="600.01" stroke="#222" stroke-width="1.5" stroke-linecap="butt"/>
<text transform="translate(133.9 600.16)" font-size="10" fill="#262626" font-weight="normal" text-anchor="end" dominant-baseline="central" font-family="DejaVu Sans, Liberation Sans, sans-serif" stroke="#262626" stroke-width="0.25">BY9-3</text>
<line x1="279.91" y1="893.67" x2="279.91" y2="895.78" stroke="#222" stroke-width="1.2" stroke-linecap="butt"/>
<text x="279.91" y="898.49" font-size="10" fill="#262626" stroke="#262626" stroke-width="0.25" text-anchor="end" dominant-baseline="central" font-family="DejaVu Sans, Liberation Sans, sans-serif" transform="rotate(-90 279.91 898.49)">BY9-3</text>
<line x1="137.9" y1="625.54" x2="139.7" y2="625.54" stroke="#222" stroke-width="1.5" stroke-linecap="butt"/>
<text transform="translate(133.9 625.69)" font-size="10" fill="#262626" font-weight="normal" text-anchor="end" dominant-baseline="central" font-family="DejaVu Sans, Liberation Sans, sans-serif" stroke="#262626" stroke-width="0.25">BY9-4</text>
<line x1="305.47" y1="893.67" x2="305.47" y2="895.78" stroke="#222" stroke-width="1.2" stroke-linecap="butt"/>
<text x="305.47" y="898.49" font-size="10" fill="#262626" stroke="#262626" stroke-width="0.25" text-anchor="end" dominant-baseline="central" font-family="DejaVu Sans, Liberation Sans, sans-serif" transform="rotate(-90 305.47 898.49)">BY9-4</text>
<line x1="137.9" y1="651.06" x2="139.7" y2="651.06" stroke="#222" stroke-width="1.5" stroke-linecap="butt"/>
<text transform="translate(133.9 651.21)" font-size="10" fill="#262626" font-weight="normal" text-anchor="end" dominant-baseline="central" font-family="DejaVu Sans, Liberation Sans, sans-serif" stroke="#262626" stroke-width="0.25">LB-1</text>
<line x1="331.04" y1="893.67" x2="331.04" y2="895.78" stroke="#222" stroke-width="1.2" stroke-linecap="butt"/>
<text x="331.04" y="898.49" font-size="10" fill="#262626" stroke="#262626" stroke-width="0.25" text-anchor="end" dominant-baseline="central" font-family="DejaVu Sans, Liberation Sans, sans-serif" transform="rotate(-90 331.04 898.49)">LB-1</text>
<line x1="137.9" y1="676.58" x2="139.7" y2="676.58" stroke="#222" stroke-width="1.5" stroke-linecap="butt"/>
<text transform="translate(133.9 676.73)" font-size="10" fill="#262626" font-weight="normal" text-anchor="end" dominant-baseline="central" font-family="DejaVu Sans, Liberation Sans, sans-serif" stroke="#262626" stroke-width="0.25">LB-2</text>
<line x1="356.6" y1="893.67" x2="356.6" y2="895.78" stroke="#222" stroke-width="1.2" stroke-linecap="butt"/>
<text x="356.6" y="898.49" font-size="10" fill="#262626" stroke="#262626" stroke-width="0.25" text-anchor="end" dominant-baseline="central" font-family="DejaVu Sans, Liberation Sans, sans-serif" transform="rotate(-90 356.6 898.49)">LB-2</text>
<line x1="137.9" y1="702.1" x2="139.7" y2="702.1" stroke="#222" stroke-width="1.5" stroke-linecap="butt"/>
<text transform="translate(133.9 702.25)" font-size="10" fill="#262626" font-weight="normal" text-anchor="end" dominant-baseline="central" font-family="DejaVu Sans, Liberation Sans, sans-serif" stroke="#262626" stroke-width="0.25">LB-3</text>
<line x1="382.16" y1="893.67" x2="382.16" y2="895.78" stroke="#222" stroke-width="1.2" stroke-linecap="butt"/>
<text x="382.16" y="898.49" font-size="10" fill="#262626" stroke="#262626" stroke-width="0.25" text-anchor="end" dominant-baseline="central" font-family="DejaVu Sans, Liberation Sans, sans-serif" transform="rotate(-90 382.16 898.49)">LB-3</text>
<line x1="137.9" y1="727.63" x2="139.7" y2="727.63" stroke="#222" stroke-width="1.5" stroke-linecap="butt"/>
<text transform="translate(133.9 727.78)" font-size="10" fill="#262626" font-weight="normal" text-anchor="end" dominant-baseline="central" font-family="DejaVu Sans, Liberation Sans, sans-serif" stroke="#262626" stroke-width="0.25">XZM-1</text>
<line x1="407.73" y1="893.67" x2="407.73" y2="895.78" stroke="#222" stroke-width="1.2" stroke-linecap="butt"/>
<text x="407.73" y="898.49" font-size="10" fill="#262626" stroke="#262626" stroke-width="0.25" text-anchor="end" dominant-baseline="central" font-family="DejaVu Sans, Liberation Sans, sans-serif" transform="rotate(-90 407.73 898.49)">XZM-1</text>
<line x1="137.9" y1="753.15" x2="139.7" y2="753.15" stroke="#222" stroke-width="1.5" stroke-linecap="butt"/>
<text transform="translate(133.9 753.3)" font-size="10" fill="#262626" font-weight="normal" text-anchor="end" dominant-baseline="central" font-family="DejaVu Sans, Liberation Sans, sans-serif" stroke="#262626" stroke-width="0.25">XZM-2</text>
<line x1="433.29" y1="893.67" x2="433.29" y2="895.78" stroke="#222" stroke-width="1.2" stroke-linecap="butt"/>
<text x="433.29" y="898.49" font-size="10" fill="#262626" stroke="#262626" stroke-width="0.25" text-anchor="end" dominant-baseline="central" font-family="DejaVu Sans, Liberation Sans, sans-serif" transform="rotate(-90 433.29 898.49)">XZM-2</text>
<line x1="137.9" y1="778.67" x2="139.7" y2="778.67" stroke="#222" stroke-width="1.5" stroke-linecap="butt"/>
<text transform="translate(133.9 778.82)" font-size="10" fill="#262626" font-weight="normal" text-anchor="end" dominant-baseline="central" font-family="DejaVu Sans, Liberation Sans, sans-serif" stroke="#262626" stroke-width="0.25">XZM-3</text>
<line x1="458.86" y1="893.67" x2="458.86" y2="895.78" stroke="#222" stroke-width="1.2" stroke-linecap="butt"/>
<text x="458.86" y="898.49" font-size="10" fill="#262626" stroke="#262626" stroke-width="0.25" text-anchor="end" dominant-baseline="central" font-family="DejaVu Sans, Liberation Sans, sans-serif" transform="rotate(-90 458.86 898.49)">XZM-3</text>
<line x1="137.9" y1="804.19" x2="139.7" y2="804.19" stroke="#222" stroke-width="1.5" stroke-linecap="butt"/>
<text transform="translate(133.9 804.35)" font-size="10" fill="#262626" font-weight="normal" text-anchor="end" dominant-baseline="central" font-family="DejaVu Sans, Liberation Sans, sans-serif" stroke="#262626" stroke-width="0.25">XZM-4</text>
<line x1="484.42" y1="893.67" x2="484.42" y2="895.78" stroke="#222" stroke-width="1.2" stroke-linecap="butt"/>
<text x="484.42" y="898.49" font-size="10" fill="#262626" stroke="#262626" stroke-width="0.25" text-anchor="end" dominant-baseline="central" font-family="DejaVu Sans, Liberation Sans, sans-serif" transform="rotate(-90 484.42 898.49)">XZM-4</text>
<line x1="137.9" y1="829.72" x2="139.7" y2="829.72" stroke="#222" stroke-width="1.5" stroke-linecap="butt"/>
<text transform="translate(133.9 829.87)" font-size="10" fill="#262626" font-weight="normal" text-anchor="end" dominant-baseline="central" font-family="DejaVu Sans, Liberation Sans, sans-serif" stroke="#262626" stroke-width="0.25">YG-1</text>
<line x1="509.99" y1="893.67" x2="509.99" y2="895.78" stroke="#222" stroke-width="1.2" stroke-linecap="butt"/>
<text x="509.99" y="898.49" font-size="10" fill="#262626" stroke="#262626" stroke-width="0.25" text-anchor="end" dominant-baseline="central" font-family="DejaVu Sans, Liberation Sans, sans-serif" transform="rotate(-90 509.99 898.49)">YG-1</text>
<line x1="137.9" y1="855.24" x2="139.7" y2="855.24" stroke="#222" stroke-width="1.5" stroke-linecap="butt"/>
<text transform="translate(133.9 855.39)" font-size="10" fill="#262626" font-weight="normal" text-anchor="end" dominant-baseline="central" font-family="DejaVu Sans, Liberation Sans, sans-serif" stroke="#262626" stroke-width="0.25">YG-2</text>
<line x1="535.55" y1="893.67" x2="535.55" y2="895.78" stroke="#222" stroke-width="1.2" stroke-linecap="butt"/>
<text x="535.55" y="898.49" font-size="10" fill="#262626" stroke="#262626" stroke-width="0.25" text-anchor="end" dominant-baseline="central" font-family="DejaVu Sans, Liberation Sans, sans-serif" transform="rotate(-90 535.55 898.49)">YG-2</text>
<line x1="137.9" y1="880.76" x2="139.7" y2="880.76" stroke="#222" stroke-width="1.5" stroke-linecap="butt"/>
<text transform="translate(133.9 880.91)" font-size="10" fill="#262626" font-weight="normal" text-anchor="end" dominant-baseline="central" font-family="DejaVu Sans, Liberation Sans, sans-serif" stroke="#262626" stroke-width="0.25">YG-3</text>
<line x1="561.12" y1="893.67" x2="561.12" y2="895.78" stroke="#222" stroke-width="1.2" stroke-linecap="butt"/>
<text x="561.12" y="898.49" font-size="10" fill="#262626" stroke="#262626" stroke-width="0.25" text-anchor="end" dominant-baseline="central" font-family="DejaVu Sans, Liberation Sans, sans-serif" transform="rotate(-90 561.12 898.49)">YG-3</text>
<defs>
<linearGradient id="gm" x1="0" y1="0" x2="0" y2="1">
<stop offset="0" stop-color="#5870c6"/>
<stop offset="0.05" stop-color="#6780cc"/>
<stop offset="0.1" stop-color="#768fd2"/>
<stop offset="0.15" stop-color="#839cd8"/>
<stop offset="0.2" stop-color="#8ea7dd"/>
<stop offset="0.25" stop-color="#98b1e2"/>
<stop offset="0.3" stop-color="#a4bbe6"/>
<stop offset="0.35" stop-color="#b2c6e9"/>
<stop offset="0.4" stop-color="#bfd1ec"/>
<stop offset="0.45" stop-color="#cbd4e1"/>
<stop offset="0.5" stop-color="#d7d4d3"/>
<stop offset="0.55" stop-color="#dfc9c3"/>
<stop offset="0.6" stop-color="#e6beb2"/>
<stop offset="0.65" stop-color="#eab1a2"/>
<stop offset="0.7" stop-color="#eda393"/>
<stop offset="0.75" stop-color="#ee9583"/>
<stop offset="0.8" stop-color="#ec8676"/>
<stop offset="0.85" stop-color="#e8766a"/>
<stop offset="0.9" stop-color="#e0655f"/>
<stop offset="0.95" stop-color="#d45454"/>
<stop offset="1" stop-color="#cc464a"/>
</linearGradient>
<linearGradient id="gs" x1="0" y1="0" x2="0" y2="1">
<stop offset="0" stop-color="#cc464a"/>
<stop offset="0.05" stop-color="#d55655"/>
<stop offset="0.1" stop-color="#e26961"/>
<stop offset="0.15" stop-color="#e97b6e"/>
<stop offset="0.2" stop-color="#ee8d7b"/>
<stop offset="0.25" stop-color="#ed9c8c"/>
<stop offset="0.3" stop-color="#ebac9d"/>
<stop offset="0.35" stop-color="#e7bbaf"/>
<stop offset="0.4" stop-color="#e0c8c1"/>
<stop offset="0.45" stop-color="#d7d4d3"/>
<stop offset="0.5" stop-color="#cad4e2"/>
<stop offset="0.55" stop-color="#bccfeb"/>
<stop offset="0.6" stop-color="#adc3e8"/>
<stop offset="0.65" stop-color="#9eb7e5"/>
<stop offset="0.7" stop-color="#92abe0"/>
<stop offset="0.75" stop-color="#87a0da"/>
<stop offset="0.8" stop-color="#7a92d4"/>
<stop offset="0.85" stop-color="#6981cd"/>
<stop offset="0.9" stop-color="#5870c6"/>
<stop offset="0.95" stop-color="#5870c6"/>
<stop offset="1" stop-color="#5870c6"/>
</linearGradient>
</defs>
<rect x="612.3" y="503.01" width="17.5" height="346.84" fill="url(#gm)"/>
<rect x="718.1" y="503.01" width="16.7" height="346.84" fill="url(#gs)"/>
<line x1="629.8" y1="849.85" x2="633.2" y2="849.85" stroke="#1a1a1a" stroke-width="1.6" stroke-linecap="butt"/>
<text transform="translate(637.6 849.4) scale(1 1.12)" font-size="9.7" fill="#262626" font-weight="normal" text-anchor="start" dominant-baseline="central" font-family="DejaVu Sans, Liberation Sans, sans-serif">0</text>
<line x1="629.8" y1="800.3" x2="633.2" y2="800.3" stroke="#1a1a1a" stroke-width="1.6" stroke-linecap="butt"/>
<text transform="translate(637.6 799.85) scale(1 1.12)" font-size="9.7" fill="#262626" font-weight="normal" text-anchor="start" dominant-baseline="central" font-family="DejaVu Sans, Liberation Sans, sans-serif">200</text>
<line x1="629.8" y1="750.75" x2="633.2" y2="750.75" stroke="#1a1a1a" stroke-width="1.6" stroke-linecap="butt"/>
<text transform="translate(637.6 750.3) scale(1 1.12)" font-size="9.7" fill="#262626" font-weight="normal" text-anchor="start" dominant-baseline="central" font-family="DejaVu Sans, Liberation Sans, sans-serif">400</text>
<line x1="629.8" y1="701.2" x2="633.2" y2="701.2" stroke="#1a1a1a" stroke-width="1.6" stroke-linecap="butt"/>
<text transform="translate(637.6 700.75) scale(1 1.12)" font-size="9.7" fill="#262626" font-weight="normal" text-anchor="start" dominant-baseline="central" font-family="DejaVu Sans, Liberation Sans, sans-serif">600</text>
<line x1="629.8" y1="651.66" x2="633.2" y2="651.66" stroke="#1a1a1a" stroke-width="1.6" stroke-linecap="butt"/>
<text transform="translate(637.6 651.2) scale(1 1.12)" font-size="9.7" fill="#262626" font-weight="normal" text-anchor="start" dominant-baseline="central" font-family="DejaVu Sans, Liberation Sans, sans-serif">800</text>
<line x1="629.8" y1="602.11" x2="633.2" y2="602.11" stroke="#1a1a1a" stroke-width="1.6" stroke-linecap="butt"/>
<text transform="translate(637.6 601.66) scale(1 1.12)" font-size="9.7" fill="#262626" font-weight="normal" text-anchor="start" dominant-baseline="central" font-family="DejaVu Sans, Liberation Sans, sans-serif">1000</text>
<line x1="629.8" y1="552.56" x2="633.2" y2="552.56" stroke="#1a1a1a" stroke-width="1.6" stroke-linecap="butt"/>
<text transform="translate(637.6 552.11) scale(1 1.12)" font-size="9.7" fill="#262626" font-weight="normal" text-anchor="start" dominant-baseline="central" font-family="DejaVu Sans, Liberation Sans, sans-serif">1200</text>
<line x1="629.8" y1="503.01" x2="633.2" y2="503.01" stroke="#1a1a1a" stroke-width="1.6" stroke-linecap="butt"/>
<text transform="translate(637.6 502.56) scale(1 1.12)" font-size="9.7" fill="#262626" font-weight="normal" text-anchor="start" dominant-baseline="central" font-family="DejaVu Sans, Liberation Sans, sans-serif">1400</text>
<line x1="734.8" y1="849.85" x2="738.2" y2="849.85" stroke="#1a1a1a" stroke-width="1.6" stroke-linecap="butt"/>
<text transform="translate(743.2 849.4) scale(1 1.12)" font-size="9.7" fill="#262626" font-weight="normal" text-anchor="start" dominant-baseline="central" font-family="DejaVu Sans, Liberation Sans, sans-serif">0.0</text>
<line x1="734.8" y1="780.48" x2="738.2" y2="780.48" stroke="#1a1a1a" stroke-width="1.6" stroke-linecap="butt"/>
<text transform="translate(743.2 780.03) scale(1 1.12)" font-size="9.7" fill="#262626" font-weight="normal" text-anchor="start" dominant-baseline="central" font-family="DejaVu Sans, Liberation Sans, sans-serif">0.2</text>
<line x1="734.8" y1="711.11" x2="738.2" y2="711.11" stroke="#1a1a1a" stroke-width="1.6" stroke-linecap="butt"/>
<text transform="translate(743.2 710.66) scale(1 1.12)" font-size="9.7" fill="#262626" font-weight="normal" text-anchor="start" dominant-baseline="central" font-family="DejaVu Sans, Liberation Sans, sans-serif">0.4</text>
<line x1="734.8" y1="641.75" x2="738.2" y2="641.75" stroke="#1a1a1a" stroke-width="1.6" stroke-linecap="butt"/>
<text transform="translate(743.2 641.3) scale(1 1.12)" font-size="9.7" fill="#262626" font-weight="normal" text-anchor="start" dominant-baseline="central" font-family="DejaVu Sans, Liberation Sans, sans-serif">0.6</text>
<line x1="734.8" y1="572.38" x2="738.2" y2="572.38" stroke="#1a1a1a" stroke-width="1.6" stroke-linecap="butt"/>
<text transform="translate(743.2 571.93) scale(1 1.12)" font-size="9.7" fill="#262626" font-weight="normal" text-anchor="start" dominant-baseline="central" font-family="DejaVu Sans, Liberation Sans, sans-serif">0.8</text>
<line x1="734.8" y1="503.01" x2="738.2" y2="503.01" stroke="#1a1a1a" stroke-width="1.6" stroke-linecap="butt"/>
<text transform="translate(743.2 502.56) scale(1 1.12)" font-size="9.7" fill="#262626" font-weight="normal" text-anchor="start" dominant-baseline="central" font-family="DejaVu Sans, Liberation Sans, sans-serif">1.0</text>
<text x="577.5" y="486.6" font-size="11.8" font-weight="bold" fill="#111" font-family="DejaVu Sans, Liberation Sans, sans-serif" textLength="99.4" lengthAdjust="spacingAndGlyphs">Different Markers</text>
<text x="688.5" y="486.6" font-size="11.8" font-weight="bold" fill="#111" font-family="DejaVu Sans, Liberation Sans, sans-serif" textLength="102.5" lengthAdjust="spacingAndGlyphs">Genetic Similarity</text>
</g>
</svg>
</body></html>
